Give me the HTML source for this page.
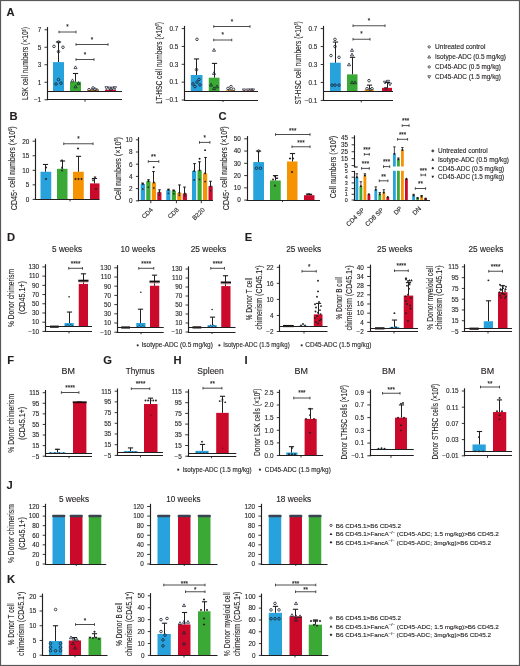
<!DOCTYPE html>
<html><head><meta charset="utf-8"><style>
html,body{margin:0;padding:0;background:#fff;}
body{width:520px;height:666px;overflow:hidden;}
svg{display:block;will-change:transform;}
text{font-family:"Liberation Sans", sans-serif;stroke:#231f20;stroke-width:0.12px;}
</style></head><body>
<svg width="520" height="666" viewBox="0 0 520 666">
<rect x="0" y="0" width="520" height="666" fill="#fff"/>
<text x="6.6" y="15.9" font-size="11.2" text-anchor="start" fill="#231f20" font-weight="bold">A</text>
<text x="9.5" y="120" font-size="11.2" text-anchor="start" fill="#231f20" font-weight="bold">B</text>
<text x="218.4" y="119.8" font-size="11.2" text-anchor="start" fill="#231f20" font-weight="bold">C</text>
<text x="6.9" y="240.6" font-size="11.2" text-anchor="start" fill="#231f20" font-weight="bold">D</text>
<text x="244.8" y="240.9" font-size="11.2" text-anchor="start" fill="#231f20" font-weight="bold">E</text>
<text x="7.2" y="364" font-size="11.2" text-anchor="start" fill="#231f20" font-weight="bold">F</text>
<text x="103.2" y="363.9" font-size="11.2" text-anchor="start" fill="#231f20" font-weight="bold">G</text>
<text x="173.6" y="363.9" font-size="11.2" text-anchor="start" fill="#231f20" font-weight="bold">H</text>
<text x="244.6" y="363.9" font-size="11.2" text-anchor="start" fill="#231f20" font-weight="bold">I</text>
<text x="6.6" y="488.6" font-size="11.2" text-anchor="start" fill="#231f20" font-weight="bold">J</text>
<text x="6.9" y="583.3" font-size="11.2" text-anchor="start" fill="#231f20" font-weight="bold">K</text>
<text x="41.2" y="32.05" font-size="6.4" text-anchor="end" fill="#231f20">7</text>
<text x="41.2" y="49.55" font-size="6.4" text-anchor="end" fill="#231f20">5</text>
<text x="41.2" y="67.05" font-size="6.4" text-anchor="end" fill="#231f20">3</text>
<text x="41.2" y="84.55" font-size="6.4" text-anchor="end" fill="#231f20">1</text>
<text x="41.2" y="102.05" font-size="6.4" text-anchor="end" fill="#231f20">&#8722;1</text>
<rect x="53" y="62.12" width="11" height="28.88" fill="#27a2dc"/>
<line x1="58.5" y1="62.12" x2="58.5" y2="42" stroke="#231f20" stroke-width="1.0"/>
<line x1="55.9" y1="42" x2="61.1" y2="42" stroke="#231f20" stroke-width="1.1"/>
<rect x="70" y="81.81" width="11" height="9.19" fill="#3aa935"/>
<line x1="75.5" y1="81.81" x2="75.5" y2="73.5" stroke="#231f20" stroke-width="1.0"/>
<line x1="72.9" y1="73.5" x2="78.1" y2="73.5" stroke="#231f20" stroke-width="1.1"/>
<rect x="87.5" y="89.95" width="11" height="1.05" fill="#f59300"/>
<rect x="105" y="89.69" width="11" height="1.31" fill="#cb0a2b"/>
<circle cx="54" cy="46.38" r="1.3" fill="none" stroke="#1a2230" stroke-width="0.8"/>
<circle cx="58.5" cy="42" r="1.3" fill="none" stroke="#1a2230" stroke-width="0.8"/>
<circle cx="63" cy="47.25" r="1.3" fill="none" stroke="#1a2230" stroke-width="0.8"/>
<circle cx="58.5" cy="51.62" r="1.3" fill="none" stroke="#1a2230" stroke-width="0.8"/>
<circle cx="56" cy="84" r="1.3" fill="none" stroke="#1a2230" stroke-width="0.8"/>
<circle cx="58.5" cy="79.62" r="1.3" fill="none" stroke="#1a2230" stroke-width="0.8"/>
<circle cx="61" cy="83.12" r="1.3" fill="none" stroke="#1a2230" stroke-width="0.8"/>
<polygon points="73.95,68.61 77.05,68.61 75.5,65.83" fill="none" stroke="#1a2230" stroke-width="0.75"/>
<polygon points="70.95,81.74 74.05,81.74 72.5,78.95" fill="none" stroke="#1a2230" stroke-width="0.75"/>
<polygon points="73.95,87.86 77.05,87.86 75.5,85.08" fill="none" stroke="#1a2230" stroke-width="0.75"/>
<polygon points="76.95,84.36 80.05,84.36 78.5,81.58" fill="none" stroke="#1a2230" stroke-width="0.75"/>
<circle cx="89" cy="89.69" r="1.3" fill="none" stroke="#1a2230" stroke-width="0.8"/>
<circle cx="92" cy="90.12" r="1.3" fill="none" stroke="#1a2230" stroke-width="0.8"/>
<circle cx="95" cy="89.25" r="1.3" fill="none" stroke="#1a2230" stroke-width="0.8"/>
<circle cx="97" cy="90.12" r="1.3" fill="none" stroke="#1a2230" stroke-width="0.8"/>
<circle cx="93" cy="87.94" r="1.3" fill="none" stroke="#1a2230" stroke-width="0.8"/>
<polygon points="104.95,86.7 108.05,86.7 106.5,89.49" fill="none" stroke="#1a2230" stroke-width="0.75"/>
<polygon points="107.95,87.14 111.05,87.14 109.5,89.92" fill="none" stroke="#1a2230" stroke-width="0.75"/>
<polygon points="110.95,87.14 114.05,87.14 112.5,89.92" fill="none" stroke="#1a2230" stroke-width="0.75"/>
<polygon points="113.45,86.7 116.55,86.7 115,89.49" fill="none" stroke="#1a2230" stroke-width="0.75"/>
<polygon points="109.45,88.89 112.55,88.89 111,91.67" fill="none" stroke="#1a2230" stroke-width="0.75"/>
<line x1="59" y1="32" x2="76" y2="32" stroke="#3a3a3a" stroke-width="0.9"/>
<line x1="59" y1="30.7" x2="59" y2="33.3" stroke="#3a3a3a" stroke-width="0.9"/>
<line x1="76" y1="30.7" x2="76" y2="33.3" stroke="#3a3a3a" stroke-width="0.9"/>
<text x="67.5" y="29.09" font-size="7" text-anchor="middle" fill="#222" textLength="2.45" lengthAdjust="spacingAndGlyphs">*</text>
<line x1="76" y1="44.5" x2="108" y2="44.5" stroke="#3a3a3a" stroke-width="0.9"/>
<line x1="76" y1="43.2" x2="76" y2="45.8" stroke="#3a3a3a" stroke-width="0.9"/>
<line x1="108" y1="43.2" x2="108" y2="45.8" stroke="#3a3a3a" stroke-width="0.9"/>
<text x="92" y="41.59" font-size="7" text-anchor="middle" fill="#222" textLength="2.45" lengthAdjust="spacingAndGlyphs">*</text>
<line x1="76" y1="59.5" x2="94" y2="59.5" stroke="#3a3a3a" stroke-width="0.9"/>
<line x1="76" y1="58.2" x2="76" y2="60.8" stroke="#3a3a3a" stroke-width="0.9"/>
<line x1="94" y1="58.2" x2="94" y2="60.8" stroke="#3a3a3a" stroke-width="0.9"/>
<text x="85" y="56.59" font-size="7" text-anchor="middle" fill="#222" textLength="2.45" lengthAdjust="spacingAndGlyphs">*</text>
<text x="28.48" y="63.5" font-size="9" text-anchor="middle" fill="#231f20" textLength="73" lengthAdjust="spacingAndGlyphs" transform="rotate(-90 28.48 63.5)">LSK cell numbers (×10<tspan font-size="4.6" dy="-2.6">6</tspan><tspan dy="2.6">)</tspan></text>
<text x="178.4" y="30.9" font-size="6.4" text-anchor="end" fill="#231f20">0.7</text>
<text x="178.4" y="48.75" font-size="6.4" text-anchor="end" fill="#231f20">0.5</text>
<text x="178.4" y="66.6" font-size="6.4" text-anchor="end" fill="#231f20">0.3</text>
<text x="178.4" y="84.45" font-size="6.4" text-anchor="end" fill="#231f20">0.1</text>
<text x="178.4" y="102.3" font-size="6.4" text-anchor="end" fill="#231f20">&#8722;0.1</text>
<rect x="190.75" y="75.01" width="11.75" height="16.06" fill="#27a2dc"/>
<line x1="196.5" y1="75.01" x2="196.5" y2="58.95" stroke="#231f20" stroke-width="1.0"/>
<line x1="193.9" y1="58.95" x2="199.1" y2="58.95" stroke="#231f20" stroke-width="1.1"/>
<rect x="208.75" y="77.69" width="10.75" height="13.39" fill="#3aa935"/>
<line x1="214.5" y1="77.69" x2="214.5" y2="63.41" stroke="#231f20" stroke-width="1.0"/>
<line x1="211.9" y1="63.41" x2="217.1" y2="63.41" stroke="#231f20" stroke-width="1.1"/>
<rect x="226" y="90.18" width="9" height="0.89" fill="#f59300"/>
<rect x="242.5" y="90.63" width="11.5" height="0.45" fill="#cb0a2b"/>
<circle cx="197" cy="39.31" r="1.3" fill="none" stroke="#1a2230" stroke-width="0.8"/>
<circle cx="196.5" cy="69.66" r="1.3" fill="none" stroke="#1a2230" stroke-width="0.8"/>
<circle cx="193" cy="83.94" r="1.3" fill="none" stroke="#1a2230" stroke-width="0.8"/>
<circle cx="197" cy="82.15" r="1.3" fill="none" stroke="#1a2230" stroke-width="0.8"/>
<circle cx="200" cy="84.83" r="1.3" fill="none" stroke="#1a2230" stroke-width="0.8"/>
<circle cx="195" cy="86.61" r="1.3" fill="none" stroke="#1a2230" stroke-width="0.8"/>
<circle cx="199" cy="79.47" r="1.3" fill="none" stroke="#1a2230" stroke-width="0.8"/>
<polygon points="212.45,51.26 215.55,51.26 214,48.47" fill="none" stroke="#1a2230" stroke-width="0.75"/>
<polygon points="212.45,74.46 215.55,74.46 214,71.67" fill="none" stroke="#1a2230" stroke-width="0.75"/>
<polygon points="209.45,86.07 212.55,86.07 211,83.28" fill="none" stroke="#1a2230" stroke-width="0.75"/>
<polygon points="215.45,87.85 218.55,87.85 217,85.06" fill="none" stroke="#1a2230" stroke-width="0.75"/>
<polygon points="212.45,89.64 215.55,89.64 214,86.85" fill="none" stroke="#1a2230" stroke-width="0.75"/>
<circle cx="228" cy="88.4" r="1.3" fill="none" stroke="#1a2230" stroke-width="0.8"/>
<circle cx="231" cy="86.61" r="1.3" fill="none" stroke="#1a2230" stroke-width="0.8"/>
<circle cx="233.5" cy="89.29" r="1.3" fill="none" stroke="#1a2230" stroke-width="0.8"/>
<circle cx="230" cy="90.18" r="1.3" fill="none" stroke="#1a2230" stroke-width="0.8"/>
<polygon points="242.45,88.94 245.55,88.94 244,91.73" fill="none" stroke="#1a2230" stroke-width="0.75"/>
<polygon points="246.45,88.94 249.55,88.94 248,91.73" fill="none" stroke="#1a2230" stroke-width="0.75"/>
<polygon points="249.45,88.94 252.55,88.94 251,91.73" fill="none" stroke="#1a2230" stroke-width="0.75"/>
<polygon points="251.45,88.94 254.55,88.94 253,91.73" fill="none" stroke="#1a2230" stroke-width="0.75"/>
<line x1="213.75" y1="26.5" x2="250" y2="26.5" stroke="#3a3a3a" stroke-width="0.9"/>
<line x1="213.75" y1="25.2" x2="213.75" y2="27.8" stroke="#3a3a3a" stroke-width="0.9"/>
<line x1="250" y1="25.2" x2="250" y2="27.8" stroke="#3a3a3a" stroke-width="0.9"/>
<text x="231.88" y="23.99" font-size="7" text-anchor="middle" fill="#222" textLength="2.45" lengthAdjust="spacingAndGlyphs">*</text>
<line x1="213.75" y1="40" x2="231.75" y2="40" stroke="#3a3a3a" stroke-width="0.9"/>
<line x1="213.75" y1="38.7" x2="213.75" y2="41.3" stroke="#3a3a3a" stroke-width="0.9"/>
<line x1="231.75" y1="38.7" x2="231.75" y2="41.3" stroke="#3a3a3a" stroke-width="0.9"/>
<text x="222.75" y="37.09" font-size="7" text-anchor="middle" fill="#222" textLength="2.45" lengthAdjust="spacingAndGlyphs">*</text>
<text x="161.78" y="62.88" font-size="9" text-anchor="middle" fill="#231f20" textLength="81.75" lengthAdjust="spacingAndGlyphs" transform="rotate(-90 161.78 62.88)">LT-HSC cell numbers (×10<tspan font-size="4.6" dy="-2.6">6</tspan><tspan dy="2.6">)</tspan></text>
<text x="317.4" y="30.9" font-size="6.4" text-anchor="end" fill="#231f20">0.7</text>
<text x="317.4" y="48.85" font-size="6.4" text-anchor="end" fill="#231f20">0.5</text>
<text x="317.4" y="66.8" font-size="6.4" text-anchor="end" fill="#231f20">0.3</text>
<text x="317.4" y="84.75" font-size="6.4" text-anchor="end" fill="#231f20">0.1</text>
<text x="317.4" y="102.7" font-size="6.4" text-anchor="end" fill="#231f20">&#8722;0.1</text>
<rect x="330" y="62.71" width="10.8" height="28.72" fill="#27a2dc"/>
<line x1="335.5" y1="62.71" x2="335.5" y2="42.06" stroke="#231f20" stroke-width="1.0"/>
<line x1="332.9" y1="42.06" x2="338.1" y2="42.06" stroke="#231f20" stroke-width="1.1"/>
<rect x="347" y="74.37" width="10.5" height="17.05" fill="#3aa935"/>
<line x1="352.5" y1="74.37" x2="352.5" y2="57.32" stroke="#231f20" stroke-width="1.0"/>
<line x1="349.9" y1="57.32" x2="355.1" y2="57.32" stroke="#231f20" stroke-width="1.1"/>
<rect x="364.5" y="89.63" width="9.25" height="1.8" fill="#f59300"/>
<line x1="369.5" y1="89.63" x2="369.5" y2="85.14" stroke="#231f20" stroke-width="1.0"/>
<line x1="366.9" y1="85.14" x2="372.1" y2="85.14" stroke="#231f20" stroke-width="1.1"/>
<rect x="382" y="87.84" width="10" height="3.59" fill="#cb0a2b"/>
<line x1="387.5" y1="87.84" x2="387.5" y2="82.45" stroke="#231f20" stroke-width="1.0"/>
<line x1="384.9" y1="82.45" x2="390.1" y2="82.45" stroke="#231f20" stroke-width="1.1"/>
<circle cx="335" cy="39.37" r="1.3" fill="none" stroke="#1a2230" stroke-width="0.8"/>
<circle cx="335" cy="46.55" r="1.3" fill="none" stroke="#1a2230" stroke-width="0.8"/>
<circle cx="331" cy="55.53" r="1.3" fill="none" stroke="#1a2230" stroke-width="0.8"/>
<circle cx="339" cy="57.32" r="1.3" fill="none" stroke="#1a2230" stroke-width="0.8"/>
<circle cx="332" cy="85.14" r="1.3" fill="none" stroke="#1a2230" stroke-width="0.8"/>
<circle cx="335" cy="85.14" r="1.3" fill="none" stroke="#1a2230" stroke-width="0.8"/>
<circle cx="339" cy="85.14" r="1.3" fill="none" stroke="#1a2230" stroke-width="0.8"/>
<polygon points="350.45,51.38 353.55,51.38 352,48.59" fill="none" stroke="#1a2230" stroke-width="0.75"/>
<polygon points="350.45,55.87 353.55,55.87 352,53.08" fill="none" stroke="#1a2230" stroke-width="0.75"/>
<polygon points="347.45,65.74 350.55,65.74 349,62.95" fill="none" stroke="#1a2230" stroke-width="0.75"/>
<polygon points="350.45,83.69 353.55,83.69 352,80.9" fill="none" stroke="#1a2230" stroke-width="0.75"/>
<polygon points="353.45,83.69 356.55,83.69 355,80.9" fill="none" stroke="#1a2230" stroke-width="0.75"/>
<circle cx="369" cy="80.66" r="1.3" fill="none" stroke="#1a2230" stroke-width="0.8"/>
<circle cx="367" cy="88.73" r="1.3" fill="none" stroke="#1a2230" stroke-width="0.8"/>
<circle cx="370" cy="89.63" r="1.3" fill="none" stroke="#1a2230" stroke-width="0.8"/>
<circle cx="372" cy="88.73" r="1.3" fill="none" stroke="#1a2230" stroke-width="0.8"/>
<polygon points="383.45,81.21 386.55,81.21 385,84" fill="none" stroke="#1a2230" stroke-width="0.75"/>
<polygon points="386.45,80.31 389.55,80.31 388,83.1" fill="none" stroke="#1a2230" stroke-width="0.75"/>
<polygon points="388.45,83.01 391.55,83.01 390,85.8" fill="none" stroke="#1a2230" stroke-width="0.75"/>
<polygon points="384.45,87.49 387.55,87.49 386,90.28" fill="none" stroke="#1a2230" stroke-width="0.75"/>
<line x1="353" y1="25.75" x2="385" y2="25.75" stroke="#3a3a3a" stroke-width="0.9"/>
<line x1="353" y1="24.45" x2="353" y2="27.05" stroke="#3a3a3a" stroke-width="0.9"/>
<line x1="385" y1="24.45" x2="385" y2="27.05" stroke="#3a3a3a" stroke-width="0.9"/>
<text x="369" y="23.04" font-size="7" text-anchor="middle" fill="#222" textLength="2.45" lengthAdjust="spacingAndGlyphs">*</text>
<line x1="353" y1="39.25" x2="370" y2="39.25" stroke="#3a3a3a" stroke-width="0.9"/>
<line x1="353" y1="37.95" x2="353" y2="40.55" stroke="#3a3a3a" stroke-width="0.9"/>
<line x1="370" y1="37.95" x2="370" y2="40.55" stroke="#3a3a3a" stroke-width="0.9"/>
<text x="361.5" y="36.14" font-size="7" text-anchor="middle" fill="#222" textLength="2.45" lengthAdjust="spacingAndGlyphs">*</text>
<text x="300.63" y="62.88" font-size="9" text-anchor="middle" fill="#231f20" textLength="83.25" lengthAdjust="spacingAndGlyphs" transform="rotate(-90 300.63 62.88)">ST-HSC cell numbers (×10<tspan font-size="4.6" dy="-2.6">6</tspan><tspan dy="2.6">)</tspan></text>
<circle cx="429.2" cy="46.9" r="1.15" fill="none" stroke="#231f20" stroke-width="0.75"/>
<text x="435" y="49.28" font-size="6.6" text-anchor="start" fill="#231f20" textLength="50.4" lengthAdjust="spacingAndGlyphs">Untreated control</text>
<polygon points="427.75,58.06 430.65,58.06 429.2,55.45" fill="none" stroke="#231f20" stroke-width="0.7"/>
<text x="435" y="59.28" font-size="6.6" text-anchor="start" fill="#231f20" textLength="71" lengthAdjust="spacingAndGlyphs">Isotype-ADC (0.5 mg/kg)</text>
<circle cx="429.2" cy="66.9" r="1.15" fill="none" stroke="#231f20" stroke-width="0.75"/>
<text x="435" y="69.28" font-size="6.6" text-anchor="start" fill="#231f20" textLength="66" lengthAdjust="spacingAndGlyphs">CD45-ADC (0.5 mg/kg)</text>
<polygon points="427.75,75.74 430.65,75.74 429.2,78.35" fill="none" stroke="#231f20" stroke-width="0.7"/>
<text x="435" y="79.28" font-size="6.6" text-anchor="start" fill="#231f20" textLength="66" lengthAdjust="spacingAndGlyphs">CD45-ADC (1.5 mg/kg)</text>
<text x="29.3" y="143.5" font-size="6.4" text-anchor="end" fill="#231f20">20</text>
<text x="29.3" y="158.05" font-size="6.4" text-anchor="end" fill="#231f20">15</text>
<text x="29.3" y="172.6" font-size="6.4" text-anchor="end" fill="#231f20">10</text>
<text x="29.3" y="187.15" font-size="6.4" text-anchor="end" fill="#231f20">5</text>
<text x="29.3" y="201.7" font-size="6.4" text-anchor="end" fill="#231f20">0</text>
<rect x="40.5" y="171.75" width="10.75" height="27.65" fill="#27a2dc"/>
<line x1="45.5" y1="171.75" x2="45.5" y2="164.48" stroke="#231f20" stroke-width="1.0"/>
<line x1="42.9" y1="164.48" x2="48.1" y2="164.48" stroke="#231f20" stroke-width="1.1"/>
<rect x="57" y="168.84" width="10.5" height="30.56" fill="#3aa935"/>
<line x1="62.5" y1="168.84" x2="62.5" y2="160.99" stroke="#231f20" stroke-width="1.0"/>
<line x1="59.9" y1="160.99" x2="65.1" y2="160.99" stroke="#231f20" stroke-width="1.1"/>
<rect x="73" y="171.75" width="10.75" height="27.65" fill="#f59300"/>
<line x1="78.5" y1="171.75" x2="78.5" y2="156.33" stroke="#231f20" stroke-width="1.0"/>
<line x1="75.9" y1="156.33" x2="81.1" y2="156.33" stroke="#231f20" stroke-width="1.1"/>
<rect x="90" y="183.39" width="9.5" height="16.01" fill="#cb0a2b"/>
<line x1="94.5" y1="183.39" x2="94.5" y2="178.45" stroke="#231f20" stroke-width="1.0"/>
<line x1="91.9" y1="178.45" x2="97.1" y2="178.45" stroke="#231f20" stroke-width="1.1"/>
<polygon points="46,166.14 47.25,167.39 46,168.64 44.75,167.39" fill="#231f20"/>
<polygon points="46,177.78 47.25,179.03 46,180.28 44.75,179.03" fill="#231f20"/>
<polygon points="60.7,161.16 63.3,161.16 62,158.81" fill="#231f20" stroke="#231f20" stroke-width="0"/>
<polygon points="60.7,168.43 63.3,168.43 62,166.09" fill="#231f20" stroke="#231f20" stroke-width="0"/>
<polygon points="60.7,171.34 63.3,171.34 62,169" fill="#231f20" stroke="#231f20" stroke-width="0"/>
<polygon points="78,147.22 79.25,148.47 78,149.72 76.75,148.47" fill="#231f20"/>
<polygon points="75.5,177.78 76.75,179.03 75.5,180.28 74.25,179.03" fill="#231f20"/>
<polygon points="78.5,177.78 79.75,179.03 78.5,180.28 77.25,179.03" fill="#231f20"/>
<polygon points="81.5,177.78 82.75,179.03 81.5,180.28 80.25,179.03" fill="#231f20"/>
<polygon points="93.7,176.53 96.3,176.53 95,178.88" fill="#231f20" stroke="#231f20" stroke-width="0"/>
<polygon points="91.7,179.45 94.3,179.45 93,181.79" fill="#231f20" stroke="#231f20" stroke-width="0"/>
<polygon points="94.7,188.18 97.3,188.18 96,190.52" fill="#231f20" stroke="#231f20" stroke-width="0"/>
<line x1="63.75" y1="143.75" x2="93" y2="143.75" stroke="#3a3a3a" stroke-width="0.9"/>
<line x1="63.75" y1="142.45" x2="63.75" y2="145.05" stroke="#3a3a3a" stroke-width="0.9"/>
<line x1="93" y1="142.45" x2="93" y2="145.05" stroke="#3a3a3a" stroke-width="0.9"/>
<text x="78.38" y="141.09" font-size="7" text-anchor="middle" fill="#222" textLength="2.45" lengthAdjust="spacingAndGlyphs">*</text>
<text x="17.38" y="168.25" font-size="9" text-anchor="middle" fill="#231f20" textLength="84" lengthAdjust="spacingAndGlyphs" transform="rotate(-90 17.38 168.25)">CD45<tspan font-size="4.6" dy="-2.6">+</tspan><tspan dy="2.6"></tspan> cell numbers (×10<tspan font-size="4.6" dy="-2.6">6</tspan><tspan dy="2.6">)</tspan></text>
<text x="132.6" y="142.1" font-size="6.4" text-anchor="end" fill="#231f20">10</text>
<text x="132.6" y="154.3" font-size="6.4" text-anchor="end" fill="#231f20">8</text>
<text x="132.6" y="166.5" font-size="6.4" text-anchor="end" fill="#231f20">6</text>
<text x="132.6" y="178.7" font-size="6.4" text-anchor="end" fill="#231f20">4</text>
<text x="132.6" y="190.9" font-size="6.4" text-anchor="end" fill="#231f20">2</text>
<text x="132.6" y="203.1" font-size="6.4" text-anchor="end" fill="#231f20">0</text>
<rect x="140.75" y="184.03" width="4.2" height="16.78" fill="#27a2dc"/>
<line x1="142.5" y1="184.03" x2="142.5" y2="183.11" stroke="#231f20" stroke-width="1.0"/>
<line x1="141.24" y1="183.11" x2="143.76" y2="183.11" stroke="#231f20" stroke-width="1.1"/>
<circle cx="142.85" cy="184.03" r="1" fill="#1a1a1a" stroke="#231f20" stroke-width="0"/>
<circle cx="142.85" cy="189.06" r="0.9" fill="#2a2a2a" stroke="#231f20" stroke-width="0"/>
<rect x="146.25" y="181.28" width="4.2" height="19.52" fill="#3aa935"/>
<line x1="148.5" y1="181.28" x2="148.5" y2="179.75" stroke="#231f20" stroke-width="1.0"/>
<line x1="147.24" y1="179.75" x2="149.76" y2="179.75" stroke="#231f20" stroke-width="1.1"/>
<circle cx="148.35" cy="181.28" r="1" fill="#1a1a1a" stroke="#231f20" stroke-width="0"/>
<circle cx="148.35" cy="187.14" r="0.9" fill="#2a2a2a" stroke="#231f20" stroke-width="0"/>
<rect x="151.75" y="182.5" width="4.2" height="18.3" fill="#f59300"/>
<line x1="153.5" y1="182.5" x2="153.5" y2="171.52" stroke="#231f20" stroke-width="1.0"/>
<line x1="152.24" y1="171.52" x2="154.76" y2="171.52" stroke="#231f20" stroke-width="1.1"/>
<circle cx="153.85" cy="182.5" r="1" fill="#1a1a1a" stroke="#231f20" stroke-width="0"/>
<circle cx="153.85" cy="187.99" r="0.9" fill="#2a2a2a" stroke="#231f20" stroke-width="0"/>
<rect x="157.25" y="192.26" width="4.2" height="8.54" fill="#cb0a2b"/>
<line x1="159.5" y1="192.26" x2="159.5" y2="189.82" stroke="#231f20" stroke-width="1.0"/>
<line x1="158.24" y1="189.82" x2="160.76" y2="189.82" stroke="#231f20" stroke-width="1.1"/>
<circle cx="159.35" cy="192.26" r="1" fill="#1a1a1a" stroke="#231f20" stroke-width="0"/>
<circle cx="159.35" cy="194.82" r="0.9" fill="#2a2a2a" stroke="#231f20" stroke-width="0"/>
<rect x="166.25" y="190.12" width="4.2" height="10.68" fill="#27a2dc"/>
<line x1="168.5" y1="190.12" x2="168.5" y2="189.21" stroke="#231f20" stroke-width="1.0"/>
<line x1="167.24" y1="189.21" x2="169.76" y2="189.21" stroke="#231f20" stroke-width="1.1"/>
<circle cx="168.35" cy="190.12" r="1" fill="#1a1a1a" stroke="#231f20" stroke-width="0"/>
<circle cx="168.35" cy="193.33" r="0.9" fill="#2a2a2a" stroke="#231f20" stroke-width="0"/>
<rect x="171.75" y="190.74" width="4.2" height="10.06" fill="#3aa935"/>
<line x1="173.5" y1="190.74" x2="173.5" y2="190.12" stroke="#231f20" stroke-width="1.0"/>
<line x1="172.24" y1="190.12" x2="174.76" y2="190.12" stroke="#231f20" stroke-width="1.1"/>
<circle cx="173.85" cy="190.74" r="1" fill="#1a1a1a" stroke="#231f20" stroke-width="0"/>
<circle cx="173.85" cy="193.75" r="0.9" fill="#2a2a2a" stroke="#231f20" stroke-width="0"/>
<rect x="177.25" y="192.87" width="4.2" height="7.93" fill="#f59300"/>
<line x1="179.5" y1="192.87" x2="179.5" y2="184.94" stroke="#231f20" stroke-width="1.0"/>
<line x1="178.24" y1="184.94" x2="180.76" y2="184.94" stroke="#231f20" stroke-width="1.1"/>
<circle cx="179.35" cy="192.87" r="1" fill="#1a1a1a" stroke="#231f20" stroke-width="0"/>
<circle cx="179.35" cy="195.25" r="0.9" fill="#2a2a2a" stroke="#231f20" stroke-width="0"/>
<rect x="182.75" y="193.48" width="4.2" height="7.32" fill="#cb0a2b"/>
<line x1="184.5" y1="193.48" x2="184.5" y2="187.08" stroke="#231f20" stroke-width="1.0"/>
<line x1="183.24" y1="187.08" x2="185.76" y2="187.08" stroke="#231f20" stroke-width="1.1"/>
<circle cx="184.85" cy="193.48" r="1" fill="#1a1a1a" stroke="#231f20" stroke-width="0"/>
<circle cx="184.85" cy="195.68" r="0.9" fill="#2a2a2a" stroke="#231f20" stroke-width="0"/>
<rect x="192" y="170.91" width="4.2" height="29.89" fill="#27a2dc"/>
<line x1="194.5" y1="170.91" x2="194.5" y2="163.59" stroke="#231f20" stroke-width="1.0"/>
<line x1="193.24" y1="163.59" x2="195.76" y2="163.59" stroke="#231f20" stroke-width="1.1"/>
<circle cx="194.1" cy="170.91" r="1" fill="#1a1a1a" stroke="#231f20" stroke-width="0"/>
<circle cx="194.1" cy="179.88" r="0.9" fill="#2a2a2a" stroke="#231f20" stroke-width="0"/>
<rect x="197.5" y="170.3" width="4.2" height="30.5" fill="#3aa935"/>
<line x1="199.5" y1="170.3" x2="199.5" y2="161.76" stroke="#231f20" stroke-width="1.0"/>
<line x1="198.24" y1="161.76" x2="200.76" y2="161.76" stroke="#231f20" stroke-width="1.1"/>
<circle cx="199.6" cy="170.3" r="1" fill="#1a1a1a" stroke="#231f20" stroke-width="0"/>
<circle cx="199.6" cy="179.45" r="0.9" fill="#2a2a2a" stroke="#231f20" stroke-width="0"/>
<rect x="203" y="173.35" width="4.2" height="27.45" fill="#f59300"/>
<line x1="205.5" y1="173.35" x2="205.5" y2="157.49" stroke="#231f20" stroke-width="1.0"/>
<line x1="204.24" y1="157.49" x2="206.76" y2="157.49" stroke="#231f20" stroke-width="1.1"/>
<circle cx="205.1" cy="173.35" r="1" fill="#1a1a1a" stroke="#231f20" stroke-width="0"/>
<circle cx="205.1" cy="181.59" r="0.9" fill="#2a2a2a" stroke="#231f20" stroke-width="0"/>
<rect x="208.5" y="186.16" width="4.2" height="14.64" fill="#cb0a2b"/>
<line x1="210.5" y1="186.16" x2="210.5" y2="181.28" stroke="#231f20" stroke-width="1.0"/>
<line x1="209.24" y1="181.28" x2="211.76" y2="181.28" stroke="#231f20" stroke-width="1.1"/>
<circle cx="210.6" cy="186.16" r="1" fill="#1a1a1a" stroke="#231f20" stroke-width="0"/>
<circle cx="210.6" cy="190.55" r="0.9" fill="#2a2a2a" stroke="#231f20" stroke-width="0"/>
<circle cx="153.7" cy="167.25" r="0.95" fill="#1a1a1a" stroke="#231f20" stroke-width="0"/>
<circle cx="205.1" cy="150.17" r="0.95" fill="#1a1a1a" stroke="#231f20" stroke-width="0"/>
<circle cx="199.6" cy="158.71" r="0.95" fill="#1a1a1a" stroke="#231f20" stroke-width="0"/>
<line x1="148.3" y1="161.5" x2="158.8" y2="161.5" stroke="#3a3a3a" stroke-width="0.9"/>
<line x1="148.3" y1="160.2" x2="148.3" y2="162.8" stroke="#3a3a3a" stroke-width="0.9"/>
<line x1="158.8" y1="160.2" x2="158.8" y2="162.8" stroke="#3a3a3a" stroke-width="0.9"/>
<text x="153.55" y="159.29" font-size="7" text-anchor="middle" fill="#222" textLength="4.9" lengthAdjust="spacingAndGlyphs">**</text>
<line x1="199.5" y1="142.4" x2="209.9" y2="142.4" stroke="#3a3a3a" stroke-width="0.9"/>
<line x1="199.5" y1="141.1" x2="199.5" y2="143.7" stroke="#3a3a3a" stroke-width="0.9"/>
<line x1="209.9" y1="141.1" x2="209.9" y2="143.7" stroke="#3a3a3a" stroke-width="0.9"/>
<text x="204.7" y="140.09" font-size="7" text-anchor="middle" fill="#222" textLength="2.45" lengthAdjust="spacingAndGlyphs">*</text>
<text x="120.58" y="168.7" font-size="9" text-anchor="middle" fill="#231f20" textLength="63" lengthAdjust="spacingAndGlyphs" transform="rotate(-90 120.58 168.7)">Cell numbers (×10<tspan font-size="4.6" dy="-2.6">6</tspan><tspan dy="2.6">)</tspan></text>
<text x="153.3" y="210.2" font-size="6.3" text-anchor="end" fill="#231f20" transform="rotate(-45 153.3 210.2)">CD4</text>
<text x="179.2" y="210.2" font-size="6.3" text-anchor="end" fill="#231f20" transform="rotate(-45 179.2 210.2)">CD8</text>
<text x="205.2" y="210.2" font-size="6.3" text-anchor="end" fill="#231f20" transform="rotate(-45 205.2 210.2)">B220</text>
<text x="240.9" y="141.1" font-size="6.4" text-anchor="end" fill="#231f20">50</text>
<text x="240.9" y="153.36" font-size="6.4" text-anchor="end" fill="#231f20">40</text>
<text x="240.9" y="165.62" font-size="6.4" text-anchor="end" fill="#231f20">30</text>
<text x="240.9" y="177.88" font-size="6.4" text-anchor="end" fill="#231f20">20</text>
<text x="240.9" y="190.14" font-size="6.4" text-anchor="end" fill="#231f20">10</text>
<text x="240.9" y="202.4" font-size="6.4" text-anchor="end" fill="#231f20">0</text>
<rect x="253.25" y="162.09" width="10.75" height="38.01" fill="#27a2dc"/>
<line x1="258.5" y1="162.09" x2="258.5" y2="151.06" stroke="#231f20" stroke-width="1.0"/>
<line x1="255.9" y1="151.06" x2="261.1" y2="151.06" stroke="#231f20" stroke-width="1.1"/>
<rect x="270" y="180.48" width="10.75" height="19.62" fill="#3aa935"/>
<line x1="275.5" y1="180.48" x2="275.5" y2="175.58" stroke="#231f20" stroke-width="1.0"/>
<line x1="272.9" y1="175.58" x2="278.1" y2="175.58" stroke="#231f20" stroke-width="1.1"/>
<rect x="287" y="161.48" width="10.5" height="38.62" fill="#f59300"/>
<line x1="292.5" y1="161.48" x2="292.5" y2="153.51" stroke="#231f20" stroke-width="1.0"/>
<line x1="289.9" y1="153.51" x2="295.1" y2="153.51" stroke="#231f20" stroke-width="1.1"/>
<rect x="304" y="195.2" width="10.5" height="4.9" fill="#cb0a2b"/>
<line x1="309.5" y1="195.2" x2="309.5" y2="194.46" stroke="#231f20" stroke-width="1.0"/>
<line x1="306.9" y1="194.46" x2="312.1" y2="194.46" stroke="#231f20" stroke-width="1.1"/>
<circle cx="258.6" cy="151.06" r="1.3" fill="none" stroke="#1a2230" stroke-width="0.8"/>
<circle cx="256.5" cy="168.22" r="1.3" fill="none" stroke="#1a2230" stroke-width="0.8"/>
<circle cx="260.5" cy="168.22" r="1.3" fill="none" stroke="#1a2230" stroke-width="0.8"/>
<polygon points="273.7,177.23 276.3,177.23 275,174.89" fill="#231f20" stroke="#231f20" stroke-width="0"/>
<polygon points="271.7,180.3 274.3,180.3 273,177.96" fill="#231f20" stroke="#231f20" stroke-width="0"/>
<polygon points="275.7,179.07 278.3,179.07 277,176.73" fill="#231f20" stroke="#231f20" stroke-width="0"/>
<polygon points="273.7,186.43 276.3,186.43 275,184.09" fill="#231f20" stroke="#231f20" stroke-width="0"/>
<polygon points="290,157.17 291.25,158.42 290,159.67 288.75,158.42" fill="#231f20"/>
<polygon points="293,157.17 294.25,158.42 293,159.67 291.75,158.42" fill="#231f20"/>
<polygon points="292,170.65 293.25,171.9 292,173.15 290.75,171.9" fill="#231f20"/>
<polygon points="305.7,193.54 308.3,193.54 307,195.88" fill="#231f20" stroke="#231f20" stroke-width="0"/>
<polygon points="307.7,193.18 310.3,193.18 309,195.52" fill="#231f20" stroke="#231f20" stroke-width="0"/>
<polygon points="309.7,193.67 312.3,193.67 311,196.01" fill="#231f20" stroke="#231f20" stroke-width="0"/>
<line x1="275.5" y1="134.5" x2="310" y2="134.5" stroke="#3a3a3a" stroke-width="0.9"/>
<line x1="275.5" y1="133.2" x2="275.5" y2="135.8" stroke="#3a3a3a" stroke-width="0.9"/>
<line x1="310" y1="133.2" x2="310" y2="135.8" stroke="#3a3a3a" stroke-width="0.9"/>
<text x="292.75" y="133.09" font-size="7" text-anchor="middle" fill="#222" textLength="7.35" lengthAdjust="spacingAndGlyphs">***</text>
<line x1="292" y1="146.75" x2="310" y2="146.75" stroke="#3a3a3a" stroke-width="0.9"/>
<line x1="292" y1="145.45" x2="292" y2="148.05" stroke="#3a3a3a" stroke-width="0.9"/>
<line x1="310" y1="145.45" x2="310" y2="148.05" stroke="#3a3a3a" stroke-width="0.9"/>
<text x="301" y="145.34" font-size="7" text-anchor="middle" fill="#222" textLength="7.35" lengthAdjust="spacingAndGlyphs">***</text>
<text x="229.18" y="168.25" font-size="9" text-anchor="middle" fill="#231f20" textLength="84" lengthAdjust="spacingAndGlyphs" transform="rotate(-90 229.18 168.25)">CD45<tspan font-size="4.6" dy="-2.6">+</tspan><tspan dy="2.6"></tspan> cell numbers (×10<tspan font-size="4.6" dy="-2.6">6</tspan><tspan dy="2.6">)</tspan></text>
<text x="348" y="140.08" font-size="6.3" text-anchor="end" fill="#231f20">45</text>
<text x="348" y="147.01" font-size="6.3" text-anchor="end" fill="#231f20">35</text>
<text x="348" y="153.94" font-size="6.3" text-anchor="end" fill="#231f20">25</text>
<text x="348" y="160.87" font-size="6.3" text-anchor="end" fill="#231f20">15</text>
<text x="348" y="167.8" font-size="6.3" text-anchor="end" fill="#231f20">5</text>
<text x="347.8" y="179.1" font-size="5.4" text-anchor="end" fill="#231f20">4</text>
<text x="347.8" y="184.8" font-size="5.4" text-anchor="end" fill="#231f20">3</text>
<text x="347.8" y="190.5" font-size="5.4" text-anchor="end" fill="#231f20">2</text>
<text x="347.8" y="196.2" font-size="5.4" text-anchor="end" fill="#231f20">1</text>
<text x="347.8" y="201.9" font-size="5.4" text-anchor="end" fill="#231f20">0</text>
<text x="347.8" y="173.4" font-size="5.4" text-anchor="end" fill="#231f20">5</text>
<rect x="355.5" y="177.2" width="2.8" height="22.8" fill="#27a2dc"/>
<line x1="356.9" y1="177.2" x2="356.9" y2="173.78" stroke="#231f20" stroke-width="0.8"/>
<line x1="355.7" y1="173.78" x2="358.1" y2="173.78" stroke="#231f20" stroke-width="0.9"/>
<circle cx="356.9" cy="177.2" r="1.05" fill="#1a1a1a" stroke="#231f20" stroke-width="0"/>
<rect x="359.5" y="186.32" width="2.8" height="13.68" fill="#3aa935"/>
<line x1="360.9" y1="186.32" x2="360.9" y2="181.76" stroke="#231f20" stroke-width="0.8"/>
<line x1="359.7" y1="181.76" x2="362.1" y2="181.76" stroke="#231f20" stroke-width="0.9"/>
<circle cx="360.9" cy="186.32" r="1.05" fill="#1a1a1a" stroke="#231f20" stroke-width="0"/>
<rect x="363.5" y="175.49" width="2.8" height="24.51" fill="#f59300"/>
<line x1="364.9" y1="175.49" x2="364.9" y2="173.78" stroke="#231f20" stroke-width="0.8"/>
<line x1="363.7" y1="173.78" x2="366.1" y2="173.78" stroke="#231f20" stroke-width="0.9"/>
<circle cx="364.9" cy="175.49" r="1.05" fill="#1a1a1a" stroke="#231f20" stroke-width="0"/>
<rect x="367.5" y="194.3" width="2.8" height="5.7" fill="#cb0a2b"/>
<circle cx="368.9" cy="194.3" r="1.05" fill="#1a1a1a" stroke="#231f20" stroke-width="0"/>
<rect x="374.4" y="189.74" width="2.8" height="10.26" fill="#27a2dc"/>
<line x1="375.8" y1="189.74" x2="375.8" y2="186.89" stroke="#231f20" stroke-width="0.8"/>
<line x1="374.6" y1="186.89" x2="377" y2="186.89" stroke="#231f20" stroke-width="0.9"/>
<circle cx="375.8" cy="189.74" r="1.05" fill="#1a1a1a" stroke="#231f20" stroke-width="0"/>
<rect x="378.4" y="194.3" width="2.8" height="5.7" fill="#3aa935"/>
<line x1="379.8" y1="194.3" x2="379.8" y2="192.59" stroke="#231f20" stroke-width="0.8"/>
<line x1="378.6" y1="192.59" x2="381" y2="192.59" stroke="#231f20" stroke-width="0.9"/>
<circle cx="379.8" cy="194.3" r="1.05" fill="#1a1a1a" stroke="#231f20" stroke-width="0"/>
<rect x="382.4" y="192.59" width="2.8" height="7.41" fill="#f59300"/>
<line x1="383.8" y1="192.59" x2="383.8" y2="189.74" stroke="#231f20" stroke-width="0.8"/>
<line x1="382.6" y1="189.74" x2="385" y2="189.74" stroke="#231f20" stroke-width="0.9"/>
<circle cx="383.8" cy="192.59" r="1.05" fill="#1a1a1a" stroke="#231f20" stroke-width="0"/>
<rect x="386.4" y="197.15" width="2.8" height="2.85" fill="#cb0a2b"/>
<circle cx="387.8" cy="197.15" r="1.05" fill="#1a1a1a" stroke="#231f20" stroke-width="0"/>
<rect x="393" y="170.8" width="2.8" height="29.2" fill="#27a2dc"/>
<rect x="393" y="153.82" width="2.8" height="12.68" fill="#27a2dc"/>
<line x1="394.4" y1="153.82" x2="394.4" y2="146.89" stroke="#231f20" stroke-width="0.8"/>
<line x1="393.2" y1="146.89" x2="395.6" y2="146.89" stroke="#231f20" stroke-width="0.9"/>
<circle cx="394.4" cy="153.82" r="1.05" fill="#1a1a1a" stroke="#231f20" stroke-width="0"/>
<rect x="397" y="170.8" width="2.8" height="29.2" fill="#3aa935"/>
<rect x="397" y="159.36" width="2.8" height="7.14" fill="#3aa935"/>
<line x1="398.4" y1="159.36" x2="398.4" y2="157.98" stroke="#231f20" stroke-width="0.8"/>
<line x1="397.2" y1="157.98" x2="399.6" y2="157.98" stroke="#231f20" stroke-width="0.9"/>
<circle cx="398.4" cy="159.36" r="1.05" fill="#1a1a1a" stroke="#231f20" stroke-width="0"/>
<rect x="401" y="170.8" width="2.8" height="29.2" fill="#f59300"/>
<rect x="401" y="150.01" width="2.8" height="16.49" fill="#f59300"/>
<line x1="402.4" y1="150.01" x2="402.4" y2="147.58" stroke="#231f20" stroke-width="0.8"/>
<line x1="401.2" y1="147.58" x2="403.6" y2="147.58" stroke="#231f20" stroke-width="0.9"/>
<circle cx="402.4" cy="150.01" r="1.05" fill="#1a1a1a" stroke="#231f20" stroke-width="0"/>
<rect x="405" y="178.91" width="2.8" height="21.09" fill="#cb0a2b"/>
<circle cx="406.4" cy="178.91" r="1.05" fill="#1a1a1a" stroke="#231f20" stroke-width="0"/>
<rect x="412.2" y="195.44" width="2.8" height="4.56" fill="#27a2dc"/>
<line x1="413.6" y1="195.44" x2="413.6" y2="194.3" stroke="#231f20" stroke-width="0.8"/>
<line x1="412.4" y1="194.3" x2="414.8" y2="194.3" stroke="#231f20" stroke-width="0.9"/>
<circle cx="413.6" cy="195.44" r="1.05" fill="#1a1a1a" stroke="#231f20" stroke-width="0"/>
<rect x="416.2" y="198.29" width="2.8" height="1.71" fill="#3aa935"/>
<line x1="417.6" y1="198.29" x2="417.6" y2="197.72" stroke="#231f20" stroke-width="0.8"/>
<line x1="416.4" y1="197.72" x2="418.8" y2="197.72" stroke="#231f20" stroke-width="0.9"/>
<circle cx="417.6" cy="198.29" r="1.05" fill="#1a1a1a" stroke="#231f20" stroke-width="0"/>
<rect x="420.2" y="196.58" width="2.8" height="3.42" fill="#f59300"/>
<line x1="421.6" y1="196.58" x2="421.6" y2="195.44" stroke="#231f20" stroke-width="0.8"/>
<line x1="420.4" y1="195.44" x2="422.8" y2="195.44" stroke="#231f20" stroke-width="0.9"/>
<circle cx="421.6" cy="196.58" r="1.05" fill="#1a1a1a" stroke="#231f20" stroke-width="0"/>
<rect x="424.2" y="198.86" width="2.8" height="1.14" fill="#cb0a2b"/>
<line x1="425.6" y1="198.86" x2="425.6" y2="198.29" stroke="#231f20" stroke-width="0.8"/>
<line x1="424.4" y1="198.29" x2="426.8" y2="198.29" stroke="#231f20" stroke-width="0.9"/>
<circle cx="425.6" cy="198.86" r="1.05" fill="#1a1a1a" stroke="#231f20" stroke-width="0"/>
<line x1="364.3" y1="154.3" x2="369.3" y2="154.3" stroke="#3a3a3a" stroke-width="0.9"/>
<line x1="364.3" y1="153" x2="364.3" y2="155.6" stroke="#3a3a3a" stroke-width="0.9"/>
<line x1="369.3" y1="153" x2="369.3" y2="155.6" stroke="#3a3a3a" stroke-width="0.9"/>
<text x="366.8" y="152.14" font-size="6.4" text-anchor="middle" fill="#222" textLength="7.35" lengthAdjust="spacingAndGlyphs">***</text>
<line x1="361.6" y1="168.4" x2="369.3" y2="168.4" stroke="#3a3a3a" stroke-width="0.9"/>
<line x1="361.6" y1="167.1" x2="361.6" y2="169.7" stroke="#3a3a3a" stroke-width="0.9"/>
<line x1="369.3" y1="167.1" x2="369.3" y2="169.7" stroke="#3a3a3a" stroke-width="0.9"/>
<text x="365.45" y="166.24" font-size="6.4" text-anchor="middle" fill="#222" textLength="7.35" lengthAdjust="spacingAndGlyphs">***</text>
<line x1="383.5" y1="166.6" x2="389.7" y2="166.6" stroke="#3a3a3a" stroke-width="0.9"/>
<line x1="383.5" y1="165.3" x2="383.5" y2="167.9" stroke="#3a3a3a" stroke-width="0.9"/>
<line x1="389.7" y1="165.3" x2="389.7" y2="167.9" stroke="#3a3a3a" stroke-width="0.9"/>
<text x="386.6" y="164.44" font-size="6.4" text-anchor="middle" fill="#222" textLength="7.35" lengthAdjust="spacingAndGlyphs">***</text>
<line x1="379.3" y1="180.8" x2="387.9" y2="180.8" stroke="#3a3a3a" stroke-width="0.9"/>
<line x1="379.3" y1="179.5" x2="379.3" y2="182.1" stroke="#3a3a3a" stroke-width="0.9"/>
<line x1="387.9" y1="179.5" x2="387.9" y2="182.1" stroke="#3a3a3a" stroke-width="0.9"/>
<text x="383.6" y="178.64" font-size="6.4" text-anchor="middle" fill="#222" textLength="4.9" lengthAdjust="spacingAndGlyphs">**</text>
<line x1="402.2" y1="125.6" x2="409.1" y2="125.6" stroke="#3a3a3a" stroke-width="0.9"/>
<line x1="402.2" y1="124.3" x2="402.2" y2="126.9" stroke="#3a3a3a" stroke-width="0.9"/>
<line x1="409.1" y1="124.3" x2="409.1" y2="126.9" stroke="#3a3a3a" stroke-width="0.9"/>
<text x="405.65" y="123.44" font-size="6.4" text-anchor="middle" fill="#222" textLength="7.35" lengthAdjust="spacingAndGlyphs">***</text>
<line x1="397.6" y1="139.3" x2="407.6" y2="139.3" stroke="#3a3a3a" stroke-width="0.9"/>
<line x1="397.6" y1="138" x2="397.6" y2="140.6" stroke="#3a3a3a" stroke-width="0.9"/>
<line x1="407.6" y1="138" x2="407.6" y2="140.6" stroke="#3a3a3a" stroke-width="0.9"/>
<text x="402.6" y="137.14" font-size="6.4" text-anchor="middle" fill="#222" textLength="7.35" lengthAdjust="spacingAndGlyphs">***</text>
<line x1="421" y1="175" x2="425.6" y2="175" stroke="#3a3a3a" stroke-width="0.9"/>
<line x1="421" y1="173.7" x2="421" y2="176.3" stroke="#3a3a3a" stroke-width="0.9"/>
<line x1="425.6" y1="173.7" x2="425.6" y2="176.3" stroke="#3a3a3a" stroke-width="0.9"/>
<text x="423.3" y="172.84" font-size="6.4" text-anchor="middle" fill="#222" textLength="7.35" lengthAdjust="spacingAndGlyphs">***</text>
<line x1="415.3" y1="188.5" x2="425.6" y2="188.5" stroke="#3a3a3a" stroke-width="0.9"/>
<line x1="415.3" y1="187.2" x2="415.3" y2="189.8" stroke="#3a3a3a" stroke-width="0.9"/>
<line x1="425.6" y1="187.2" x2="425.6" y2="189.8" stroke="#3a3a3a" stroke-width="0.9"/>
<text x="420.45" y="186.34" font-size="6.4" text-anchor="middle" fill="#222" textLength="4.9" lengthAdjust="spacingAndGlyphs">**</text>
<text x="336.08" y="167.12" font-size="9" text-anchor="middle" fill="#231f20" textLength="62.25" lengthAdjust="spacingAndGlyphs" transform="rotate(-90 336.08 167.12)">Cell numbers (×10<tspan font-size="4.6" dy="-2.6">5</tspan><tspan dy="2.6">)</tspan></text>
<text x="365" y="210.5" font-size="6.4" text-anchor="end" fill="#231f20" transform="rotate(-45 365 210.5)">CD4 SP</text>
<text x="384" y="210.5" font-size="6.4" text-anchor="end" fill="#231f20" transform="rotate(-45 384 210.5)">CD8 SP</text>
<text x="402.5" y="209" font-size="6.4" text-anchor="end" fill="#231f20" transform="rotate(-45 402.5 209)">DP</text>
<text x="421.5" y="209" font-size="6.4" text-anchor="end" fill="#231f20" transform="rotate(-45 421.5 209)">DN</text>
<circle cx="432.8" cy="150.9" r="1.1" fill="#555" stroke="#231f20" stroke-width="0.5"/>
<text x="438" y="153.28" font-size="6.6" text-anchor="start" fill="#231f20" textLength="49.6" lengthAdjust="spacingAndGlyphs">Untreated control</text>
<polygon points="431.4,160.64 434.2,160.64 432.8,158.12" fill="#231f20" stroke="#231f20" stroke-width="0"/>
<text x="438" y="161.9" font-size="6.6" text-anchor="start" fill="#231f20" textLength="70.9" lengthAdjust="spacingAndGlyphs">Isotype-ADC (0.5 mg/kg)</text>
<polygon points="432.8,166.74 434.2,168.14 432.8,169.54 431.4,168.14" fill="#231f20"/>
<text x="438" y="170.52" font-size="6.6" text-anchor="start" fill="#231f20" textLength="66.2" lengthAdjust="spacingAndGlyphs">CD45-ADC (0.5 mg/kg)</text>
<polygon points="431.4,175.64 434.2,175.64 432.8,178.16" fill="#231f20" stroke="#231f20" stroke-width="0"/>
<text x="438" y="179.14" font-size="6.6" text-anchor="start" fill="#231f20" textLength="66.2" lengthAdjust="spacingAndGlyphs">CD45-ADC (1.5 mg/kg)</text>
<text x="39.1" y="269.2" font-size="6.4" text-anchor="end" fill="#231f20">130</text>
<text x="39.1" y="278.42" font-size="6.4" text-anchor="end" fill="#231f20">110</text>
<text x="39.1" y="287.63" font-size="6.4" text-anchor="end" fill="#231f20">90</text>
<text x="39.1" y="296.85" font-size="6.4" text-anchor="end" fill="#231f20">70</text>
<text x="39.1" y="306.06" font-size="6.4" text-anchor="end" fill="#231f20">50</text>
<text x="39.1" y="315.28" font-size="6.4" text-anchor="end" fill="#231f20">30</text>
<text x="39.1" y="324.49" font-size="6.4" text-anchor="end" fill="#231f20">10</text>
<text x="39.1" y="333.7" font-size="6.4" text-anchor="end" fill="#231f20">&#8722;10</text>
<text x="111" y="270.1" font-size="6.4" text-anchor="end" fill="#231f20">130</text>
<text x="111" y="279.3" font-size="6.4" text-anchor="end" fill="#231f20">110</text>
<text x="111" y="288.5" font-size="6.4" text-anchor="end" fill="#231f20">90</text>
<text x="111" y="297.7" font-size="6.4" text-anchor="end" fill="#231f20">70</text>
<text x="111" y="306.9" font-size="6.4" text-anchor="end" fill="#231f20">50</text>
<text x="111" y="316.1" font-size="6.4" text-anchor="end" fill="#231f20">30</text>
<text x="111" y="325.3" font-size="6.4" text-anchor="end" fill="#231f20">10</text>
<text x="111" y="334.5" font-size="6.4" text-anchor="end" fill="#231f20">&#8722;10</text>
<text x="182.3" y="271.3" font-size="6.4" text-anchor="end" fill="#231f20">130</text>
<text x="182.3" y="280.3" font-size="6.4" text-anchor="end" fill="#231f20">110</text>
<text x="182.3" y="289.3" font-size="6.4" text-anchor="end" fill="#231f20">90</text>
<text x="182.3" y="298.3" font-size="6.4" text-anchor="end" fill="#231f20">70</text>
<text x="182.3" y="307.3" font-size="6.4" text-anchor="end" fill="#231f20">50</text>
<text x="182.3" y="316.3" font-size="6.4" text-anchor="end" fill="#231f20">30</text>
<text x="182.3" y="325.3" font-size="6.4" text-anchor="end" fill="#231f20">10</text>
<text x="182.3" y="334.3" font-size="6.4" text-anchor="end" fill="#231f20">&#8722;10</text>
<rect x="50" y="325.59" width="8.75" height="2.2" fill="#151515"/>
<rect x="64.5" y="323.11" width="9.25" height="3.69" fill="#27a2dc"/>
<line x1="69.5" y1="323.11" x2="69.5" y2="312.05" stroke="#231f20" stroke-width="1.0"/>
<line x1="66.9" y1="312.05" x2="72.1" y2="312.05" stroke="#231f20" stroke-width="1.1"/>
<rect x="78.75" y="283.95" width="9.25" height="42.85" fill="#cb0a2b"/>
<line x1="83.5" y1="283.95" x2="83.5" y2="273.81" stroke="#231f20" stroke-width="1.0"/>
<line x1="80.9" y1="273.81" x2="86.1" y2="273.81" stroke="#231f20" stroke-width="1.1"/>
<circle cx="69.1" cy="296.85" r="0.8" fill="#231f20" stroke="#231f20" stroke-width="0"/>
<circle cx="66" cy="325.87" r="0.8" fill="#1b5f88" stroke="#231f20" stroke-width="0"/>
<circle cx="67.6" cy="324.49" r="0.8" fill="#1b5f88" stroke="#231f20" stroke-width="0"/>
<circle cx="69.2" cy="325.87" r="0.8" fill="#1b5f88" stroke="#231f20" stroke-width="0"/>
<circle cx="70.8" cy="324.49" r="0.8" fill="#1b5f88" stroke="#231f20" stroke-width="0"/>
<circle cx="72.4" cy="325.87" r="0.8" fill="#1b5f88" stroke="#231f20" stroke-width="0"/>
<rect x="78.25" y="279.72" width="10.25" height="2.1" fill="#111"/>
<rect x="78.75" y="281.82" width="9.25" height="0.8" fill="#e8a0a8"/>
<rect x="121.25" y="326.4" width="8.75" height="2.2" fill="#151515"/>
<rect x="136.25" y="323" width="9.25" height="4.6" fill="#27a2dc"/>
<line x1="140.5" y1="323" x2="140.5" y2="309.2" stroke="#231f20" stroke-width="1.0"/>
<line x1="137.9" y1="309.2" x2="143.1" y2="309.2" stroke="#231f20" stroke-width="1.1"/>
<rect x="150" y="285.74" width="9.25" height="41.86" fill="#cb0a2b"/>
<line x1="154.5" y1="285.74" x2="154.5" y2="275.16" stroke="#231f20" stroke-width="1.0"/>
<line x1="151.9" y1="275.16" x2="157.1" y2="275.16" stroke="#231f20" stroke-width="1.1"/>
<circle cx="140.85" cy="292.18" r="0.8" fill="#231f20" stroke="#231f20" stroke-width="0"/>
<circle cx="137.75" cy="326.68" r="0.8" fill="#1b5f88" stroke="#231f20" stroke-width="0"/>
<circle cx="139.35" cy="325.3" r="0.8" fill="#1b5f88" stroke="#231f20" stroke-width="0"/>
<circle cx="140.95" cy="326.68" r="0.8" fill="#1b5f88" stroke="#231f20" stroke-width="0"/>
<circle cx="142.55" cy="325.3" r="0.8" fill="#1b5f88" stroke="#231f20" stroke-width="0"/>
<circle cx="144.15" cy="326.68" r="0.8" fill="#1b5f88" stroke="#231f20" stroke-width="0"/>
<rect x="149.5" y="280.6" width="10.25" height="2.1" fill="#111"/>
<rect x="150" y="282.7" width="9.25" height="0.8" fill="#e8a0a8"/>
<rect x="192.5" y="326.3" width="8.75" height="2.2" fill="#151515"/>
<rect x="207.5" y="325.25" width="9.25" height="2.25" fill="#27a2dc"/>
<line x1="212.5" y1="325.25" x2="212.5" y2="317.15" stroke="#231f20" stroke-width="1.0"/>
<line x1="209.9" y1="317.15" x2="215.1" y2="317.15" stroke="#231f20" stroke-width="1.1"/>
<rect x="221.25" y="286.1" width="9.25" height="41.4" fill="#cb0a2b"/>
<line x1="225.5" y1="286.1" x2="225.5" y2="275.75" stroke="#231f20" stroke-width="1.0"/>
<line x1="222.9" y1="275.75" x2="228.1" y2="275.75" stroke="#231f20" stroke-width="1.1"/>
<circle cx="212.1" cy="309.5" r="0.8" fill="#231f20" stroke="#231f20" stroke-width="0"/>
<circle cx="209" cy="326.6" r="0.8" fill="#1b5f88" stroke="#231f20" stroke-width="0"/>
<circle cx="210.6" cy="325.25" r="0.8" fill="#1b5f88" stroke="#231f20" stroke-width="0"/>
<circle cx="212.2" cy="326.6" r="0.8" fill="#1b5f88" stroke="#231f20" stroke-width="0"/>
<circle cx="213.8" cy="325.25" r="0.8" fill="#1b5f88" stroke="#231f20" stroke-width="0"/>
<circle cx="215.4" cy="326.6" r="0.8" fill="#1b5f88" stroke="#231f20" stroke-width="0"/>
<rect x="220.75" y="281.5" width="10.25" height="2.1" fill="#111"/>
<rect x="221.25" y="283.6" width="9.25" height="0.8" fill="#e8a0a8"/>
<text x="67.1" y="252.1" font-size="8.3" text-anchor="middle" fill="#231f20" textLength="30" lengthAdjust="spacingAndGlyphs">5 weeks</text>
<text x="138" y="252.1" font-size="8.3" text-anchor="middle" fill="#231f20" textLength="35" lengthAdjust="spacingAndGlyphs">10 weeks</text>
<text x="208.4" y="252.1" font-size="8.3" text-anchor="middle" fill="#231f20" textLength="35.5" lengthAdjust="spacingAndGlyphs">25 weeks</text>
<line x1="68.75" y1="268.3" x2="82.5" y2="268.3" stroke="#3a3a3a" stroke-width="0.9"/>
<line x1="68.75" y1="267" x2="68.75" y2="269.6" stroke="#3a3a3a" stroke-width="0.9"/>
<line x1="82.5" y1="267" x2="82.5" y2="269.6" stroke="#3a3a3a" stroke-width="0.9"/>
<text x="75.62" y="265.8" font-size="7" text-anchor="middle" fill="#222" textLength="9.8" lengthAdjust="spacingAndGlyphs">****</text>
<line x1="138.75" y1="268.3" x2="153.75" y2="268.3" stroke="#3a3a3a" stroke-width="0.9"/>
<line x1="138.75" y1="267" x2="138.75" y2="269.6" stroke="#3a3a3a" stroke-width="0.9"/>
<line x1="153.75" y1="267" x2="153.75" y2="269.6" stroke="#3a3a3a" stroke-width="0.9"/>
<text x="146.25" y="265.8" font-size="7" text-anchor="middle" fill="#222" textLength="9.8" lengthAdjust="spacingAndGlyphs">****</text>
<line x1="210.75" y1="268.3" x2="224.5" y2="268.3" stroke="#3a3a3a" stroke-width="0.9"/>
<line x1="210.75" y1="267" x2="210.75" y2="269.6" stroke="#3a3a3a" stroke-width="0.9"/>
<line x1="224.5" y1="267" x2="224.5" y2="269.6" stroke="#3a3a3a" stroke-width="0.9"/>
<text x="217.62" y="265.8" font-size="7" text-anchor="middle" fill="#222" textLength="9.8" lengthAdjust="spacingAndGlyphs">****</text>
<text x="14.38" y="297.95" font-size="9" text-anchor="middle" fill="#231f20" textLength="58.1" lengthAdjust="spacingAndGlyphs" transform="rotate(-90 14.38 297.95)">% Donor chimerism</text>
<text x="25.18" y="297.6" font-size="9" text-anchor="middle" fill="#231f20" textLength="33.2" lengthAdjust="spacingAndGlyphs" transform="rotate(-90 25.18 297.6)">(CD45.1+)</text>
<text x="273.5" y="269.6" font-size="6.4" text-anchor="end" fill="#231f20">22</text>
<text x="273.5" y="285.65" font-size="6.4" text-anchor="end" fill="#231f20">16</text>
<text x="273.5" y="301.7" font-size="6.4" text-anchor="end" fill="#231f20">10</text>
<text x="273.5" y="317.75" font-size="6.4" text-anchor="end" fill="#231f20">4</text>
<text x="273.5" y="333.8" font-size="6.4" text-anchor="end" fill="#231f20">&#8722;2</text>
<rect x="283" y="324.95" width="10.75" height="2.2" fill="#151515"/>
<rect x="298.75" y="325.75" width="8.75" height="0.4" fill="#27a2dc"/>
<rect x="313.75" y="314.38" width="8.75" height="11.77" fill="#cb0a2b"/>
<line x1="318.5" y1="314.38" x2="318.5" y2="303.41" stroke="#231f20" stroke-width="1.0"/>
<line x1="315.9" y1="303.41" x2="321.1" y2="303.41" stroke="#231f20" stroke-width="1.1"/>
<circle cx="318" cy="280.68" r="0.95" fill="#231f20" stroke="#231f20" stroke-width="0"/>
<circle cx="318" cy="291.38" r="0.95" fill="#231f20" stroke="#231f20" stroke-width="0"/>
<circle cx="317" cy="296.73" r="0.95" fill="#231f20" stroke="#231f20" stroke-width="0"/>
<circle cx="319" cy="302.07" r="0.95" fill="#231f20" stroke="#231f20" stroke-width="0"/>
<circle cx="316" cy="307.43" r="0.95" fill="#231f20" stroke="#231f20" stroke-width="0"/>
<circle cx="320" cy="310.1" r="0.95" fill="#231f20" stroke="#231f20" stroke-width="0"/>
<circle cx="318" cy="312.77" r="0.95" fill="#231f20" stroke="#231f20" stroke-width="0"/>
<circle cx="315" cy="318.12" r="0.95" fill="#231f20" stroke="#231f20" stroke-width="0"/>
<circle cx="321" cy="319.46" r="0.95" fill="#231f20" stroke="#231f20" stroke-width="0"/>
<circle cx="318" cy="323.48" r="0.95" fill="#231f20" stroke="#231f20" stroke-width="0"/>
<circle cx="315.5" cy="311.44" r="0.95" fill="#231f20" stroke="#231f20" stroke-width="0"/>
<circle cx="320.5" cy="314.11" r="0.95" fill="#231f20" stroke="#231f20" stroke-width="0"/>
<circle cx="317" cy="315.99" r="0.95" fill="#231f20" stroke="#231f20" stroke-width="0"/>
<circle cx="319.5" cy="320.8" r="0.95" fill="#231f20" stroke="#231f20" stroke-width="0"/>
<circle cx="316" cy="322.14" r="0.95" fill="#231f20" stroke="#231f20" stroke-width="0"/>
<circle cx="321" cy="306.09" r="0.95" fill="#231f20" stroke="#231f20" stroke-width="0"/>
<circle cx="315" cy="304.22" r="0.95" fill="#231f20" stroke="#231f20" stroke-width="0"/>
<circle cx="301" cy="325.35" r="0.95" fill="#231f20" stroke="#231f20" stroke-width="0"/>
<circle cx="303" cy="324.01" r="0.95" fill="#231f20" stroke="#231f20" stroke-width="0"/>
<circle cx="305" cy="325.35" r="0.95" fill="#231f20" stroke="#231f20" stroke-width="0"/>
<text x="303.75" y="252.1" font-size="8.3" text-anchor="middle" fill="#231f20" textLength="35" lengthAdjust="spacingAndGlyphs">25 weeks</text>
<line x1="302" y1="271.25" x2="316.25" y2="271.25" stroke="#3a3a3a" stroke-width="0.9"/>
<line x1="302" y1="269.95" x2="302" y2="272.55" stroke="#3a3a3a" stroke-width="0.9"/>
<line x1="316.25" y1="269.95" x2="316.25" y2="272.55" stroke="#3a3a3a" stroke-width="0.9"/>
<text x="309.12" y="268.6" font-size="7" text-anchor="middle" fill="#222" textLength="2.45" lengthAdjust="spacingAndGlyphs">*</text>
<text x="252.38" y="299" font-size="9" text-anchor="middle" fill="#231f20" textLength="42.6" lengthAdjust="spacingAndGlyphs" transform="rotate(-90 252.38 299)">% Donor T cell</text>
<text x="261.78" y="297.6" font-size="9" text-anchor="middle" fill="#231f20" textLength="64.2" lengthAdjust="spacingAndGlyphs" transform="rotate(-90 261.78 297.6)">chimerism (CD45.1<tspan font-size="4.6" dy="-2.6">+</tspan><tspan dy="2.6">)</tspan></text>
<text x="363.9" y="269.6" font-size="6.4" text-anchor="end" fill="#231f20">40</text>
<text x="363.9" y="278.78" font-size="6.4" text-anchor="end" fill="#231f20">34</text>
<text x="363.9" y="287.95" font-size="6.4" text-anchor="end" fill="#231f20">28</text>
<text x="363.9" y="297.12" font-size="6.4" text-anchor="end" fill="#231f20">22</text>
<text x="363.9" y="306.29" font-size="6.4" text-anchor="end" fill="#231f20">16</text>
<text x="363.9" y="315.46" font-size="6.4" text-anchor="end" fill="#231f20">10</text>
<text x="363.9" y="324.63" font-size="6.4" text-anchor="end" fill="#231f20">4</text>
<text x="363.9" y="333.8" font-size="6.4" text-anchor="end" fill="#231f20">&#8722;2</text>
<rect x="375" y="327.24" width="9.5" height="2.2" fill="#151515"/>
<rect x="389.5" y="326.91" width="9.75" height="1.53" fill="#27a2dc"/>
<line x1="394.5" y1="326.91" x2="394.5" y2="320.04" stroke="#231f20" stroke-width="1.0"/>
<line x1="391.9" y1="320.04" x2="397.1" y2="320.04" stroke="#231f20" stroke-width="1.1"/>
<rect x="403.75" y="295.58" width="9.5" height="32.86" fill="#cb0a2b"/>
<line x1="408.5" y1="295.58" x2="408.5" y2="282.59" stroke="#231f20" stroke-width="1.0"/>
<line x1="405.9" y1="282.59" x2="411.1" y2="282.59" stroke="#231f20" stroke-width="1.1"/>
<circle cx="394.4" cy="313.16" r="0.95" fill="#231f20" stroke="#231f20" stroke-width="0"/>
<circle cx="392" cy="327.68" r="0.95" fill="#231f20" stroke="#231f20" stroke-width="0"/>
<circle cx="396" cy="327.22" r="0.95" fill="#231f20" stroke="#231f20" stroke-width="0"/>
<circle cx="406" cy="279.53" r="0.95" fill="#231f20" stroke="#231f20" stroke-width="0"/>
<circle cx="408" cy="281.06" r="0.95" fill="#231f20" stroke="#231f20" stroke-width="0"/>
<circle cx="410" cy="282.59" r="0.95" fill="#231f20" stroke="#231f20" stroke-width="0"/>
<circle cx="407" cy="285.64" r="0.95" fill="#231f20" stroke="#231f20" stroke-width="0"/>
<circle cx="409" cy="288.7" r="0.95" fill="#231f20" stroke="#231f20" stroke-width="0"/>
<circle cx="408" cy="294.81" r="0.95" fill="#231f20" stroke="#231f20" stroke-width="0"/>
<circle cx="406" cy="300.93" r="0.95" fill="#231f20" stroke="#231f20" stroke-width="0"/>
<circle cx="410" cy="305.51" r="0.95" fill="#231f20" stroke="#231f20" stroke-width="0"/>
<circle cx="408" cy="320.8" r="0.95" fill="#231f20" stroke="#231f20" stroke-width="0"/>
<circle cx="405.5" cy="296.34" r="0.95" fill="#231f20" stroke="#231f20" stroke-width="0"/>
<circle cx="411" cy="297.87" r="0.95" fill="#231f20" stroke="#231f20" stroke-width="0"/>
<circle cx="407" cy="303.99" r="0.95" fill="#231f20" stroke="#231f20" stroke-width="0"/>
<circle cx="410.5" cy="308.57" r="0.95" fill="#231f20" stroke="#231f20" stroke-width="0"/>
<circle cx="406" cy="313.16" r="0.95" fill="#231f20" stroke="#231f20" stroke-width="0"/>
<polygon points="404.7,279.04 407.3,279.04 406,276.7" fill="#231f20" stroke="#231f20" stroke-width="0"/>
<polygon points="408.2,281.33 410.8,281.33 409.5,278.99" fill="#231f20" stroke="#231f20" stroke-width="0"/>
<polygon points="410.2,281.33 412.8,281.33 411.5,278.99" fill="#231f20" stroke="#231f20" stroke-width="0"/>
<polygon points="408.2,285.15 410.8,285.15 409.5,282.81" fill="#231f20" stroke="#231f20" stroke-width="0"/>
<text x="394.75" y="252.1" font-size="8.3" text-anchor="middle" fill="#231f20" textLength="35.5" lengthAdjust="spacingAndGlyphs">25 weeks</text>
<line x1="394.5" y1="270.75" x2="408.25" y2="270.75" stroke="#3a3a3a" stroke-width="0.9"/>
<line x1="394.5" y1="269.45" x2="394.5" y2="272.05" stroke="#3a3a3a" stroke-width="0.9"/>
<line x1="408.25" y1="269.45" x2="408.25" y2="272.05" stroke="#3a3a3a" stroke-width="0.9"/>
<text x="401.38" y="267.85" font-size="7" text-anchor="middle" fill="#222" textLength="9.8" lengthAdjust="spacingAndGlyphs">****</text>
<text x="342.38" y="298.3" font-size="9" text-anchor="middle" fill="#231f20" textLength="42.6" lengthAdjust="spacingAndGlyphs" transform="rotate(-90 342.38 298.3)">% Donor B cell</text>
<text x="352.48" y="297.95" font-size="9" text-anchor="middle" fill="#231f20" textLength="64.9" lengthAdjust="spacingAndGlyphs" transform="rotate(-90 352.48 297.95)">chimerism (CD45.1<tspan font-size="4.6" dy="-2.6">+</tspan><tspan dy="2.6">)</tspan></text>
<rect x="337" y="277.5" width="4.5" height="5.5" fill="#aaa"/>
<text x="458.5" y="269.2" font-size="6.4" text-anchor="end" fill="#231f20">115</text>
<text x="458.5" y="279.97" font-size="6.4" text-anchor="end" fill="#231f20">95</text>
<text x="458.5" y="290.74" font-size="6.4" text-anchor="end" fill="#231f20">75</text>
<text x="458.5" y="301.5" font-size="6.4" text-anchor="end" fill="#231f20">55</text>
<text x="458.5" y="312.27" font-size="6.4" text-anchor="end" fill="#231f20">35</text>
<text x="458.5" y="323.04" font-size="6.4" text-anchor="end" fill="#231f20">15</text>
<text x="458.5" y="333.8" font-size="6.4" text-anchor="end" fill="#231f20">&#8722;5</text>
<rect x="469.5" y="327.61" width="9.25" height="2.2" fill="#151515"/>
<rect x="483.75" y="321.27" width="9.25" height="7.54" fill="#27a2dc"/>
<line x1="488.5" y1="321.27" x2="488.5" y2="300.81" stroke="#231f20" stroke-width="1.0"/>
<line x1="485.9" y1="300.81" x2="491.1" y2="300.81" stroke="#231f20" stroke-width="1.1"/>
<rect x="498" y="292.2" width="9.5" height="36.61" fill="#cb0a2b"/>
<line x1="502.5" y1="292.2" x2="502.5" y2="285.74" stroke="#231f20" stroke-width="1.0"/>
<line x1="499.9" y1="285.74" x2="505.1" y2="285.74" stroke="#231f20" stroke-width="1.1"/>
<circle cx="488.4" cy="280.36" r="0.95" fill="#231f20" stroke="#231f20" stroke-width="0"/>
<circle cx="500" cy="284.66" r="0.95" fill="#231f20" stroke="#231f20" stroke-width="0"/>
<circle cx="503" cy="285.74" r="0.95" fill="#231f20" stroke="#231f20" stroke-width="0"/>
<circle cx="506" cy="286.82" r="0.95" fill="#231f20" stroke="#231f20" stroke-width="0"/>
<circle cx="501" cy="290.05" r="0.95" fill="#231f20" stroke="#231f20" stroke-width="0"/>
<circle cx="505" cy="291.12" r="0.95" fill="#231f20" stroke="#231f20" stroke-width="0"/>
<circle cx="503" cy="293.82" r="0.95" fill="#231f20" stroke="#231f20" stroke-width="0"/>
<circle cx="500" cy="295.43" r="0.95" fill="#231f20" stroke="#231f20" stroke-width="0"/>
<circle cx="506" cy="296.51" r="0.95" fill="#231f20" stroke="#231f20" stroke-width="0"/>
<circle cx="499.5" cy="292.2" r="0.95" fill="#231f20" stroke="#231f20" stroke-width="0"/>
<circle cx="502" cy="293.28" r="0.95" fill="#231f20" stroke="#231f20" stroke-width="0"/>
<circle cx="504.5" cy="294.35" r="0.95" fill="#231f20" stroke="#231f20" stroke-width="0"/>
<circle cx="501" cy="297.58" r="0.95" fill="#231f20" stroke="#231f20" stroke-width="0"/>
<circle cx="505" cy="298.12" r="0.95" fill="#231f20" stroke="#231f20" stroke-width="0"/>
<polygon points="501.7,288.94 504.3,288.94 503,286.59" fill="#231f20" stroke="#231f20" stroke-width="0"/>
<polygon points="504.2,290.01 506.8,290.01 505.5,287.67" fill="#231f20" stroke="#231f20" stroke-width="0"/>
<polygon points="499.2,290.01 501.8,290.01 500.5,287.67" fill="#231f20" stroke="#231f20" stroke-width="0"/>
<text x="486" y="252.1" font-size="8.3" text-anchor="middle" fill="#231f20" textLength="35" lengthAdjust="spacingAndGlyphs">25 weeks</text>
<line x1="488.75" y1="271.25" x2="502.5" y2="271.25" stroke="#3a3a3a" stroke-width="0.9"/>
<line x1="488.75" y1="269.95" x2="488.75" y2="272.55" stroke="#3a3a3a" stroke-width="0.9"/>
<line x1="502.5" y1="269.95" x2="502.5" y2="272.55" stroke="#3a3a3a" stroke-width="0.9"/>
<text x="495.62" y="268.6" font-size="7" text-anchor="middle" fill="#222" textLength="9.8" lengthAdjust="spacingAndGlyphs">****</text>
<text x="432.98" y="297.85" font-size="9" text-anchor="middle" fill="#231f20" textLength="63.7" lengthAdjust="spacingAndGlyphs" transform="rotate(-90 432.98 297.85)">% Donor myeloid cell</text>
<text x="442.48" y="297.6" font-size="9" text-anchor="middle" fill="#231f20" textLength="64.2" lengthAdjust="spacingAndGlyphs" transform="rotate(-90 442.48 297.6)">chimerism (CD45.1<tspan font-size="4.6" dy="-2.6">+</tspan><tspan dy="2.6">)</tspan></text>
<circle cx="137.7" cy="345.3" r="1.1" fill="#333" stroke="#231f20" stroke-width="0"/>
<text x="141.5" y="347.4" font-size="6.6" text-anchor="start" fill="#231f20" textLength="71.4" lengthAdjust="spacingAndGlyphs">Isotype-ADC (0.5 mg/kg)</text>
<circle cx="219.4" cy="345.3" r="1.1" fill="#333" stroke="#231f20" stroke-width="0"/>
<text x="223.3" y="347.4" font-size="6.6" text-anchor="start" fill="#231f20" textLength="66.4" lengthAdjust="spacingAndGlyphs">Isotype-ADC (1.5 mg/kg)</text>
<circle cx="301.7" cy="345.3" r="1.1" fill="#333" stroke="#231f20" stroke-width="0"/>
<text x="305.3" y="347.4" font-size="6.6" text-anchor="start" fill="#231f20" textLength="66.1" lengthAdjust="spacingAndGlyphs">CD45-ADC (1.5 mg/kg)</text>
<text x="39.4" y="395" font-size="6.4" text-anchor="end" fill="#231f20">115</text>
<text x="39.4" y="405.59" font-size="6.4" text-anchor="end" fill="#231f20">95</text>
<text x="39.4" y="416.17" font-size="6.4" text-anchor="end" fill="#231f20">75</text>
<text x="39.4" y="426.75" font-size="6.4" text-anchor="end" fill="#231f20">55</text>
<text x="39.4" y="437.34" font-size="6.4" text-anchor="end" fill="#231f20">35</text>
<text x="39.4" y="447.92" font-size="6.4" text-anchor="end" fill="#231f20">15</text>
<text x="39.4" y="458.5" font-size="6.4" text-anchor="end" fill="#231f20">&#8722;5</text>
<rect x="48.75" y="452.5" width="16.75" height="1.06" fill="#27a2dc"/>
<line x1="57.5" y1="452.5" x2="57.5" y2="449.32" stroke="#231f20" stroke-width="1.0"/>
<line x1="54.9" y1="449.32" x2="60.1" y2="449.32" stroke="#231f20" stroke-width="1.1"/>
<rect x="73" y="402.75" width="13.4" height="50.8" fill="#cb0a2b"/>
<line x1="79.5" y1="402.75" x2="79.5" y2="401.96" stroke="#231f20" stroke-width="1.0"/>
<line x1="76.9" y1="401.96" x2="82.1" y2="401.96" stroke="#231f20" stroke-width="1.1"/>
<text x="68.3" y="374.3" font-size="8.3" text-anchor="middle" fill="#231f20" textLength="13.4" lengthAdjust="spacingAndGlyphs">BM</text>
<line x1="61.4" y1="392.5" x2="78.9" y2="392.5" stroke="#3a3a3a" stroke-width="0.9"/>
<line x1="61.4" y1="391.2" x2="61.4" y2="393.8" stroke="#3a3a3a" stroke-width="0.9"/>
<line x1="78.9" y1="391.2" x2="78.9" y2="393.8" stroke="#3a3a3a" stroke-width="0.9"/>
<text x="70.15" y="390.35" font-size="7" text-anchor="middle" fill="#222" textLength="9.8" lengthAdjust="spacingAndGlyphs">****</text>
<circle cx="50.55" cy="452.92" r="0.9" fill="#1b5f88" stroke="#231f20" stroke-width="0"/>
<circle cx="54.93" cy="452.92" r="0.9" fill="#1b5f88" stroke="#231f20" stroke-width="0"/>
<circle cx="59.32" cy="452.92" r="0.9" fill="#1b5f88" stroke="#231f20" stroke-width="0"/>
<circle cx="63.7" cy="452.92" r="0.9" fill="#1b5f88" stroke="#231f20" stroke-width="0"/>
<rect x="72.7" y="401.36" width="14" height="1.8" fill="#2a0a10"/>
<line x1="55.62" y1="449.32" x2="58.62" y2="449.32" stroke="#231f20" stroke-width="1.0"/>
<text x="111.4" y="393.5" font-size="6.4" text-anchor="end" fill="#231f20">115</text>
<text x="111.4" y="404.2" font-size="6.4" text-anchor="end" fill="#231f20">95</text>
<text x="111.4" y="414.9" font-size="6.4" text-anchor="end" fill="#231f20">75</text>
<text x="111.4" y="425.6" font-size="6.4" text-anchor="end" fill="#231f20">55</text>
<text x="111.4" y="436.3" font-size="6.4" text-anchor="end" fill="#231f20">35</text>
<text x="111.4" y="447" font-size="6.4" text-anchor="end" fill="#231f20">15</text>
<text x="111.4" y="457.7" font-size="6.4" text-anchor="end" fill="#231f20">&#8722;5</text>
<rect x="123.75" y="451.12" width="13.75" height="1.6" fill="#27a2dc"/>
<line x1="130.5" y1="451.12" x2="130.5" y2="447.91" stroke="#231f20" stroke-width="1.0"/>
<line x1="127.9" y1="447.91" x2="133.1" y2="447.91" stroke="#231f20" stroke-width="1.1"/>
<rect x="144" y="404.04" width="13.5" height="48.69" fill="#cb0a2b"/>
<line x1="150.5" y1="404.04" x2="150.5" y2="398.15" stroke="#231f20" stroke-width="1.0"/>
<line x1="147.9" y1="398.15" x2="153.1" y2="398.15" stroke="#231f20" stroke-width="1.1"/>
<text x="140.2" y="374.3" font-size="8.3" text-anchor="middle" fill="#231f20" textLength="29" lengthAdjust="spacingAndGlyphs">Thymus</text>
<line x1="131.3" y1="388.7" x2="149.8" y2="388.7" stroke="#3a3a3a" stroke-width="0.9"/>
<line x1="131.3" y1="387.4" x2="131.3" y2="390" stroke="#3a3a3a" stroke-width="0.9"/>
<line x1="149.8" y1="387.4" x2="149.8" y2="390" stroke="#3a3a3a" stroke-width="0.9"/>
<text x="140.55" y="386.19" font-size="7" text-anchor="middle" fill="#222" textLength="9.8" lengthAdjust="spacingAndGlyphs">****</text>
<circle cx="125.55" cy="452.08" r="0.9" fill="#1b5f88" stroke="#231f20" stroke-width="0"/>
<circle cx="128.93" cy="452.08" r="0.9" fill="#1b5f88" stroke="#231f20" stroke-width="0"/>
<circle cx="132.32" cy="452.08" r="0.9" fill="#1b5f88" stroke="#231f20" stroke-width="0"/>
<circle cx="135.7" cy="452.08" r="0.9" fill="#1b5f88" stroke="#231f20" stroke-width="0"/>
<circle cx="145.5" cy="400.56" r="0.95" fill="#231f20" stroke="#231f20" stroke-width="0"/>
<circle cx="148.1" cy="400.56" r="0.95" fill="#231f20" stroke="#231f20" stroke-width="0"/>
<circle cx="150.7" cy="400.56" r="0.95" fill="#231f20" stroke="#231f20" stroke-width="0"/>
<circle cx="153.3" cy="400.56" r="0.95" fill="#231f20" stroke="#231f20" stroke-width="0"/>
<circle cx="155.9" cy="400.56" r="0.95" fill="#231f20" stroke="#231f20" stroke-width="0"/>
<circle cx="151" cy="415.27" r="0.8" fill="#7a0a18" stroke="#231f20" stroke-width="0"/>
<text x="181.9" y="394.3" font-size="6.4" text-anchor="end" fill="#231f20">115</text>
<text x="181.9" y="405" font-size="6.4" text-anchor="end" fill="#231f20">95</text>
<text x="181.9" y="415.7" font-size="6.4" text-anchor="end" fill="#231f20">75</text>
<text x="181.9" y="426.4" font-size="6.4" text-anchor="end" fill="#231f20">55</text>
<text x="181.9" y="437.1" font-size="6.4" text-anchor="end" fill="#231f20">35</text>
<text x="181.9" y="447.8" font-size="6.4" text-anchor="end" fill="#231f20">15</text>
<text x="181.9" y="458.5" font-size="6.4" text-anchor="end" fill="#231f20">&#8722;5</text>
<rect x="195.4" y="450.85" width="13.2" height="2.67" fill="#27a2dc"/>
<line x1="202.5" y1="450.85" x2="202.5" y2="444.43" stroke="#231f20" stroke-width="1.0"/>
<line x1="199.9" y1="444.43" x2="205.1" y2="444.43" stroke="#231f20" stroke-width="1.1"/>
<rect x="216.2" y="412.87" width="12.5" height="40.66" fill="#cb0a2b"/>
<line x1="222.5" y1="412.87" x2="222.5" y2="396.28" stroke="#231f20" stroke-width="1.0"/>
<line x1="219.9" y1="396.28" x2="225.1" y2="396.28" stroke="#231f20" stroke-width="1.1"/>
<text x="210.6" y="374.3" font-size="8.3" text-anchor="middle" fill="#231f20" textLength="26.5" lengthAdjust="spacingAndGlyphs">Spleen</text>
<line x1="203" y1="388.2" x2="221.9" y2="388.2" stroke="#3a3a3a" stroke-width="0.9"/>
<line x1="203" y1="386.9" x2="203" y2="389.5" stroke="#3a3a3a" stroke-width="0.9"/>
<line x1="221.9" y1="386.9" x2="221.9" y2="389.5" stroke="#3a3a3a" stroke-width="0.9"/>
<text x="212.45" y="385.9" font-size="7" text-anchor="middle" fill="#222" textLength="4.9" lengthAdjust="spacingAndGlyphs">**</text>
<circle cx="197.2" cy="452.88" r="0.9" fill="#1b5f88" stroke="#231f20" stroke-width="0"/>
<circle cx="200.4" cy="452.88" r="0.9" fill="#1b5f88" stroke="#231f20" stroke-width="0"/>
<circle cx="203.6" cy="452.88" r="0.9" fill="#1b5f88" stroke="#231f20" stroke-width="0"/>
<circle cx="206.8" cy="452.88" r="0.9" fill="#1b5f88" stroke="#231f20" stroke-width="0"/>
<circle cx="219.7" cy="401.1" r="0.9" fill="#231f20" stroke="#231f20" stroke-width="0"/>
<circle cx="222.45" cy="401.1" r="0.9" fill="#231f20" stroke="#231f20" stroke-width="0"/>
<polygon points="224.1,403.05 226.3,403.05 225.2,401.06" fill="#231f20" stroke="#231f20" stroke-width="0"/>
<circle cx="222.45" cy="399.49" r="0.9" fill="#231f20" stroke="#231f20" stroke-width="0"/>
<circle cx="202" cy="441.75" r="0.9" fill="#231f20" stroke="#231f20" stroke-width="0"/>
<circle cx="222.45" cy="448.18" r="0.8" fill="#7a0a18" stroke="#231f20" stroke-width="0"/>
<text x="14.38" y="423.3" font-size="9" text-anchor="middle" fill="#231f20" textLength="58.8" lengthAdjust="spacingAndGlyphs" transform="rotate(-90 14.38 423.3)">% Donor chimerism</text>
<text x="25.18" y="423.32" font-size="9" text-anchor="middle" fill="#231f20" textLength="33.15" lengthAdjust="spacingAndGlyphs" transform="rotate(-90 25.18 423.32)">(CD45.1+)</text>
<text x="273.5" y="394.7" font-size="6.4" text-anchor="end" fill="#231f20">2.5</text>
<text x="273.5" y="407.32" font-size="6.4" text-anchor="end" fill="#231f20">2.0</text>
<text x="273.5" y="419.94" font-size="6.4" text-anchor="end" fill="#231f20">1.5</text>
<text x="273.5" y="432.56" font-size="6.4" text-anchor="end" fill="#231f20">1.0</text>
<text x="273.5" y="445.18" font-size="6.4" text-anchor="end" fill="#231f20">0.5</text>
<text x="273.5" y="457.8" font-size="6.4" text-anchor="end" fill="#231f20">0.0</text>
<rect x="286.25" y="452.47" width="11.25" height="3.03" fill="#27a2dc"/>
<line x1="291.5" y1="452.47" x2="291.5" y2="446.67" stroke="#231f20" stroke-width="1.0"/>
<line x1="288.9" y1="446.67" x2="294.1" y2="446.67" stroke="#231f20" stroke-width="1.1"/>
<rect x="304.6" y="418.9" width="12.1" height="36.6" fill="#cb0a2b"/>
<line x1="310.5" y1="418.9" x2="310.5" y2="408.81" stroke="#231f20" stroke-width="1.0"/>
<line x1="307.9" y1="408.81" x2="313.1" y2="408.81" stroke="#231f20" stroke-width="1.1"/>
<text x="301.25" y="374.3" font-size="8.3" text-anchor="middle" fill="#231f20" textLength="13.4" lengthAdjust="spacingAndGlyphs">BM</text>
<circle cx="310" cy="408.81" r="0.95" fill="#231f20" stroke="#231f20" stroke-width="0"/>
<circle cx="310" cy="415.12" r="0.95" fill="#231f20" stroke="#231f20" stroke-width="0"/>
<circle cx="306" cy="418.9" r="0.95" fill="#231f20" stroke="#231f20" stroke-width="0"/>
<circle cx="314" cy="418.9" r="0.95" fill="#231f20" stroke="#231f20" stroke-width="0"/>
<circle cx="310" cy="432.78" r="0.95" fill="#231f20" stroke="#231f20" stroke-width="0"/>
<circle cx="291.9" cy="447.93" r="0.95" fill="#231f20" stroke="#231f20" stroke-width="0"/>
<circle cx="289" cy="454.24" r="0.95" fill="#231f20" stroke="#231f20" stroke-width="0"/>
<circle cx="292" cy="454.24" r="0.95" fill="#231f20" stroke="#231f20" stroke-width="0"/>
<circle cx="295" cy="454.24" r="0.95" fill="#231f20" stroke="#231f20" stroke-width="0"/>
<line x1="293.75" y1="398" x2="310" y2="398" stroke="#3a3a3a" stroke-width="0.9"/>
<line x1="293.75" y1="396.7" x2="293.75" y2="399.3" stroke="#3a3a3a" stroke-width="0.9"/>
<line x1="310" y1="396.7" x2="310" y2="399.3" stroke="#3a3a3a" stroke-width="0.9"/>
<text x="301.88" y="395.35" font-size="7" text-anchor="middle" fill="#222" textLength="7.35" lengthAdjust="spacingAndGlyphs">***</text>
<text x="259.78" y="422.25" font-size="9" text-anchor="middle" fill="#231f20" textLength="67.5" lengthAdjust="spacingAndGlyphs" transform="rotate(-90 259.78 422.25)">Donor LSK cells (×10<tspan font-size="4.6" dy="-2.6">6</tspan><tspan dy="2.6">)</tspan></text>
<text x="364" y="394.5" font-size="6.4" text-anchor="end" fill="#231f20">0.9</text>
<text x="364" y="407.22" font-size="6.4" text-anchor="end" fill="#231f20">0.7</text>
<text x="364" y="419.94" font-size="6.4" text-anchor="end" fill="#231f20">0.5</text>
<text x="364" y="432.66" font-size="6.4" text-anchor="end" fill="#231f20">0.3</text>
<text x="364" y="445.38" font-size="6.4" text-anchor="end" fill="#231f20">0.1</text>
<text x="364" y="458.1" font-size="6.4" text-anchor="end" fill="#231f20">&#8722;0.1</text>
<rect x="376.25" y="448.8" width="11.25" height="0.64" fill="#27a2dc"/>
<rect x="395" y="417.64" width="12" height="31.8" fill="#cb0a2b"/>
<line x1="401.5" y1="417.64" x2="401.5" y2="404.92" stroke="#231f20" stroke-width="1.0"/>
<line x1="398.9" y1="404.92" x2="404.1" y2="404.92" stroke="#231f20" stroke-width="1.1"/>
<text x="388.75" y="374.3" font-size="8.3" text-anchor="middle" fill="#231f20" textLength="13.4" lengthAdjust="spacingAndGlyphs">BM</text>
<circle cx="401" cy="403.65" r="0.95" fill="#231f20" stroke="#231f20" stroke-width="0"/>
<circle cx="403" cy="403.01" r="0.95" fill="#231f20" stroke="#231f20" stroke-width="0"/>
<circle cx="398" cy="417.64" r="0.95" fill="#231f20" stroke="#231f20" stroke-width="0"/>
<circle cx="404" cy="417.64" r="0.95" fill="#231f20" stroke="#231f20" stroke-width="0"/>
<circle cx="401" cy="425.27" r="0.95" fill="#231f20" stroke="#231f20" stroke-width="0"/>
<circle cx="401" cy="430.36" r="0.95" fill="#231f20" stroke="#231f20" stroke-width="0"/>
<circle cx="378.5" cy="448.8" r="0.95" fill="#231f20" stroke="#231f20" stroke-width="0"/>
<circle cx="381.5" cy="448.17" r="0.95" fill="#231f20" stroke="#231f20" stroke-width="0"/>
<circle cx="384.5" cy="448.8" r="0.95" fill="#231f20" stroke="#231f20" stroke-width="0"/>
<line x1="382.5" y1="393.25" x2="400" y2="393.25" stroke="#3a3a3a" stroke-width="0.9"/>
<line x1="382.5" y1="391.95" x2="382.5" y2="394.55" stroke="#3a3a3a" stroke-width="0.9"/>
<line x1="400" y1="391.95" x2="400" y2="394.55" stroke="#3a3a3a" stroke-width="0.9"/>
<text x="391.25" y="391.6" font-size="7" text-anchor="middle" fill="#222" textLength="7.35" lengthAdjust="spacingAndGlyphs">***</text>
<text x="347.08" y="422.3" font-size="9" text-anchor="middle" fill="#231f20" textLength="74.4" lengthAdjust="spacingAndGlyphs" transform="rotate(-90 347.08 422.3)">Donor LTHSC cells (×10<tspan font-size="4.6" dy="-2.6">6</tspan><tspan dy="2.6">)</tspan></text>
<text x="458.5" y="393.3" font-size="6.4" text-anchor="end" fill="#231f20">0.15</text>
<text x="458.5" y="409.5" font-size="6.4" text-anchor="end" fill="#231f20">0.11</text>
<text x="458.5" y="425.7" font-size="6.4" text-anchor="end" fill="#231f20">0.07</text>
<text x="458.5" y="441.9" font-size="6.4" text-anchor="end" fill="#231f20">0.03</text>
<text x="458.5" y="458.1" font-size="6.4" text-anchor="end" fill="#231f20">&#8722;0.01</text>
<rect x="472.5" y="444.46" width="13.25" height="7.29" fill="#27a2dc"/>
<line x1="479.5" y1="444.46" x2="479.5" y2="431.5" stroke="#231f20" stroke-width="1.0"/>
<line x1="476.9" y1="431.5" x2="482.1" y2="431.5" stroke="#231f20" stroke-width="1.1"/>
<rect x="493" y="412.06" width="13.25" height="39.69" fill="#cb0a2b"/>
<line x1="499.5" y1="412.06" x2="499.5" y2="399.91" stroke="#231f20" stroke-width="1.0"/>
<line x1="496.9" y1="399.91" x2="502.1" y2="399.91" stroke="#231f20" stroke-width="1.1"/>
<text x="487.5" y="374.3" font-size="8.3" text-anchor="middle" fill="#231f20" textLength="13.4" lengthAdjust="spacingAndGlyphs">BM</text>
<circle cx="499.6" cy="397.88" r="0.95" fill="#231f20" stroke="#231f20" stroke-width="0"/>
<circle cx="497" cy="411.25" r="0.95" fill="#231f20" stroke="#231f20" stroke-width="0"/>
<circle cx="502" cy="411.25" r="0.95" fill="#231f20" stroke="#231f20" stroke-width="0"/>
<circle cx="499.6" cy="415.3" r="0.95" fill="#231f20" stroke="#231f20" stroke-width="0"/>
<circle cx="499.6" cy="419.35" r="0.95" fill="#231f20" stroke="#231f20" stroke-width="0"/>
<circle cx="479" cy="437.17" r="0.95" fill="#231f20" stroke="#231f20" stroke-width="0"/>
<circle cx="475" cy="451.35" r="0.95" fill="#231f20" stroke="#231f20" stroke-width="0"/>
<circle cx="479" cy="451.35" r="0.95" fill="#231f20" stroke="#231f20" stroke-width="0"/>
<circle cx="483" cy="451.35" r="0.95" fill="#231f20" stroke="#231f20" stroke-width="0"/>
<line x1="480.5" y1="387" x2="499.5" y2="387" stroke="#3a3a3a" stroke-width="0.9"/>
<line x1="480.5" y1="385.7" x2="480.5" y2="388.3" stroke="#3a3a3a" stroke-width="0.9"/>
<line x1="499.5" y1="385.7" x2="499.5" y2="388.3" stroke="#3a3a3a" stroke-width="0.9"/>
<text x="490" y="386.1" font-size="7" text-anchor="middle" fill="#222" textLength="4.9" lengthAdjust="spacingAndGlyphs">**</text>
<text x="437.78" y="421.65" font-size="9" text-anchor="middle" fill="#231f20" textLength="75.7" lengthAdjust="spacingAndGlyphs" transform="rotate(-90 437.78 421.65)">Donor STHSC cells (×10<tspan font-size="4.6" dy="-2.6">6</tspan><tspan dy="2.6">)</tspan></text>
<circle cx="178.2" cy="469.7" r="1.1" fill="#333" stroke="#231f20" stroke-width="0"/>
<text x="182.4" y="471.8" font-size="6.6" text-anchor="start" fill="#231f20" textLength="69.3" lengthAdjust="spacingAndGlyphs">Isotype-ADC (1.5 mg/kg)</text>
<circle cx="259.9" cy="469.7" r="1.1" fill="#333" stroke="#231f20" stroke-width="0"/>
<text x="264.8" y="471.8" font-size="6.6" text-anchor="start" fill="#231f20" textLength="66" lengthAdjust="spacingAndGlyphs">CD45-ADC (1.5 mg/kg)</text>
<text x="39.4" y="508.8" font-size="6.4" text-anchor="end" fill="#231f20">120</text>
<text x="39.4" y="518.39" font-size="6.4" text-anchor="end" fill="#231f20">100</text>
<text x="39.4" y="527.97" font-size="6.4" text-anchor="end" fill="#231f20">80</text>
<text x="39.4" y="537.55" font-size="6.4" text-anchor="end" fill="#231f20">60</text>
<text x="39.4" y="547.14" font-size="6.4" text-anchor="end" fill="#231f20">40</text>
<text x="39.4" y="556.72" font-size="6.4" text-anchor="end" fill="#231f20">20</text>
<text x="39.4" y="566.3" font-size="6.4" text-anchor="end" fill="#231f20">0</text>
<rect x="52.5" y="516.08" width="12.5" height="47.92" fill="#27a2dc"/>
<rect x="52.1" y="514.68" width="13.3" height="2.5" rx="1.2" fill="#3a4450"/>
<rect x="70" y="516.56" width="12.5" height="47.44" fill="#cb0a2b"/>
<rect x="69.6" y="514.68" width="13.3" height="2.5" rx="1.2" fill="#3a4450"/>
<rect x="88.75" y="516.08" width="12.5" height="47.92" fill="#3aa935"/>
<rect x="88.35" y="514.68" width="13.3" height="2.5" rx="1.2" fill="#3a4450"/>
<text x="74" y="501.8" font-size="8.3" text-anchor="middle" fill="#231f20" textLength="30.2" lengthAdjust="spacingAndGlyphs">5 weeks</text>
<text x="143.9" y="508.8" font-size="6.4" text-anchor="end" fill="#231f20">120</text>
<text x="143.9" y="518.39" font-size="6.4" text-anchor="end" fill="#231f20">100</text>
<text x="143.9" y="527.97" font-size="6.4" text-anchor="end" fill="#231f20">80</text>
<text x="143.9" y="537.55" font-size="6.4" text-anchor="end" fill="#231f20">60</text>
<text x="143.9" y="547.14" font-size="6.4" text-anchor="end" fill="#231f20">40</text>
<text x="143.9" y="556.72" font-size="6.4" text-anchor="end" fill="#231f20">20</text>
<text x="143.9" y="566.3" font-size="6.4" text-anchor="end" fill="#231f20">0</text>
<rect x="157.5" y="516.08" width="12.5" height="47.92" fill="#27a2dc"/>
<rect x="157.1" y="514.68" width="13.3" height="2.5" rx="1.2" fill="#3a4450"/>
<rect x="178" y="516.56" width="12.5" height="47.44" fill="#cb0a2b"/>
<rect x="177.6" y="514.68" width="13.3" height="2.5" rx="1.2" fill="#3a4450"/>
<rect x="198" y="516.08" width="12.5" height="47.92" fill="#3aa935"/>
<rect x="197.6" y="514.68" width="13.3" height="2.5" rx="1.2" fill="#3a4450"/>
<text x="183.4" y="501.8" font-size="8.3" text-anchor="middle" fill="#231f20" textLength="34.3" lengthAdjust="spacingAndGlyphs">10 weeks</text>
<text x="255.15" y="508.8" font-size="6.4" text-anchor="end" fill="#231f20">120</text>
<text x="255.15" y="518.39" font-size="6.4" text-anchor="end" fill="#231f20">100</text>
<text x="255.15" y="527.97" font-size="6.4" text-anchor="end" fill="#231f20">80</text>
<text x="255.15" y="537.55" font-size="6.4" text-anchor="end" fill="#231f20">60</text>
<text x="255.15" y="547.14" font-size="6.4" text-anchor="end" fill="#231f20">40</text>
<text x="255.15" y="556.72" font-size="6.4" text-anchor="end" fill="#231f20">20</text>
<text x="255.15" y="566.3" font-size="6.4" text-anchor="end" fill="#231f20">0</text>
<rect x="268.75" y="516.08" width="12.5" height="47.92" fill="#27a2dc"/>
<rect x="268.35" y="514.68" width="13.3" height="2.5" rx="1.2" fill="#3a4450"/>
<rect x="289.5" y="516.56" width="12.5" height="47.44" fill="#cb0a2b"/>
<rect x="289.1" y="514.68" width="13.3" height="2.5" rx="1.2" fill="#3a4450"/>
<rect x="308.75" y="516.08" width="12.5" height="47.92" fill="#3aa935"/>
<rect x="308.35" y="514.68" width="13.3" height="2.5" rx="1.2" fill="#3a4450"/>
<text x="293.75" y="501.8" font-size="8.3" text-anchor="middle" fill="#231f20" textLength="35" lengthAdjust="spacingAndGlyphs">18 weeks</text>
<text x="14.38" y="533.6" font-size="9" text-anchor="middle" fill="#231f20" textLength="58.8" lengthAdjust="spacingAndGlyphs" transform="rotate(-90 14.38 533.6)">% Donor chimerism</text>
<text x="24.78" y="533.55" font-size="9" text-anchor="middle" fill="#231f20" textLength="33.1" lengthAdjust="spacingAndGlyphs" transform="rotate(-90 24.78 533.55)">(CD45.1+)</text>
<circle cx="331" cy="525.4" r="1.15" fill="none" stroke="#231f20" stroke-width="0.75"/>
<text x="335.7" y="527.63" font-size="6.2" text-anchor="start" fill="#231f20" textLength="65.4" lengthAdjust="spacingAndGlyphs">B6 CD45.1&gt;B6 CD45.2</text>
<polygon points="329.6,534.97 332.4,534.97 331,532.45" fill="#231f20" stroke="#231f20" stroke-width="0"/>
<text x="335.7" y="536.08" font-size="6.2" text-anchor="start" fill="#231f20" textLength="163.2" lengthAdjust="spacingAndGlyphs">B6 CD45.1&gt;FancA<tspan font-size="4.2" dy="-2.4">&#8722;/&#8722;</tspan><tspan dy="2.4"> </tspan>(CD45-ADC; 1.5 mg/kg)&gt;B6 CD45.2</text>
<polygon points="331,540.9 332.4,542.3 331,543.7 329.6,542.3" fill="#231f20"/>
<text x="335.7" y="544.53" font-size="6.2" text-anchor="start" fill="#231f20" textLength="155.4" lengthAdjust="spacingAndGlyphs">B6 CD45.1&gt;FancA<tspan font-size="4.2" dy="-2.4">&#8722;/&#8722;</tspan><tspan dy="2.4"> </tspan>(CD45-ADC; 3mg/kg)&gt;B6 CD45.2</text>
<text x="36.3" y="598.6" font-size="6.4" text-anchor="end" fill="#231f20">20</text>
<text x="36.3" y="613.33" font-size="6.4" text-anchor="end" fill="#231f20">15</text>
<text x="36.3" y="628.05" font-size="6.4" text-anchor="end" fill="#231f20">10</text>
<text x="36.3" y="642.78" font-size="6.4" text-anchor="end" fill="#231f20">5</text>
<text x="36.3" y="657.5" font-size="6.4" text-anchor="end" fill="#231f20">0</text>
<rect x="49" y="641.06" width="13.2" height="14.14" fill="#27a2dc"/>
<line x1="55.5" y1="641.06" x2="55.5" y2="625.75" stroke="#231f20" stroke-width="1.0"/>
<line x1="52.9" y1="625.75" x2="58.1" y2="625.75" stroke="#231f20" stroke-width="1.1"/>
<rect x="68.8" y="640.48" width="12.2" height="14.73" fill="#cb0a2b"/>
<line x1="74.5" y1="640.48" x2="74.5" y2="637.53" stroke="#231f20" stroke-width="1.0"/>
<line x1="71.9" y1="637.53" x2="77.1" y2="637.53" stroke="#231f20" stroke-width="1.1"/>
<rect x="88.5" y="637.53" width="12.7" height="17.67" fill="#3aa935"/>
<line x1="94.5" y1="637.53" x2="94.5" y2="633.7" stroke="#231f20" stroke-width="1.0"/>
<line x1="91.9" y1="633.7" x2="97.1" y2="633.7" stroke="#231f20" stroke-width="1.1"/>
<circle cx="55.6" cy="609.55" r="1.3" fill="none" stroke="#1a2230" stroke-width="0.8"/>
<circle cx="50.5" cy="643.42" r="1.3" fill="none" stroke="#1a2230" stroke-width="0.8"/>
<circle cx="55.6" cy="650.78" r="1.3" fill="none" stroke="#1a2230" stroke-width="0.8"/>
<circle cx="60.5" cy="650.78" r="1.3" fill="none" stroke="#1a2230" stroke-width="0.8"/>
<circle cx="50.5" cy="650.78" r="1.3" fill="none" stroke="#1a2230" stroke-width="0.8"/>
<circle cx="60.5" cy="643.42" r="1.3" fill="none" stroke="#1a2230" stroke-width="0.8"/>
<circle cx="50.5" cy="647.25" r="1.3" fill="none" stroke="#1a2230" stroke-width="0.8"/>
<circle cx="60.5" cy="647.25" r="1.3" fill="none" stroke="#1a2230" stroke-width="0.8"/>
<polygon points="69.45,638.77 72.55,638.77 71,635.98" fill="none" stroke="#1a2230" stroke-width="0.75"/>
<polygon points="72.45,640.24 75.55,640.24 74,637.45" fill="none" stroke="#1a2230" stroke-width="0.75"/>
<polygon points="75.45,641.13 78.55,641.13 77,638.34" fill="none" stroke="#1a2230" stroke-width="0.75"/>
<polygon points="71.45,644.66 74.55,644.66 73,641.87" fill="none" stroke="#1a2230" stroke-width="0.75"/>
<polygon points="73.45,649.08 76.55,649.08 75,646.29" fill="none" stroke="#1a2230" stroke-width="0.75"/>
<polygon points="94.5,630.39 95.75,631.64 94.5,632.89 93.25,631.64" fill="#231f20"/>
<polygon points="90,636.28 91.25,637.53 90,638.78 88.75,637.53" fill="#231f20"/>
<polygon points="93,636.87 94.25,638.12 93,639.37 91.75,638.12" fill="#231f20"/>
<polygon points="96,636.28 97.25,637.53 96,638.78 94.75,637.53" fill="#231f20"/>
<polygon points="99,637.75 100.25,639 99,640.25 97.75,639" fill="#231f20"/>
<line x1="75.5" y1="624.5" x2="94.5" y2="624.5" stroke="#3a3a3a" stroke-width="0.9"/>
<line x1="75.5" y1="623.2" x2="75.5" y2="625.8" stroke="#3a3a3a" stroke-width="0.9"/>
<line x1="94.5" y1="623.2" x2="94.5" y2="625.8" stroke="#3a3a3a" stroke-width="0.9"/>
<text x="85" y="623.35" font-size="7" text-anchor="middle" fill="#222" textLength="2.45" lengthAdjust="spacingAndGlyphs">*</text>
<text x="13.88" y="624.2" font-size="9" text-anchor="middle" fill="#231f20" textLength="42" lengthAdjust="spacingAndGlyphs" transform="rotate(-90 13.88 624.2)">% Donor T cell</text>
<text x="23.78" y="623.85" font-size="9" text-anchor="middle" fill="#231f20" textLength="64.5" lengthAdjust="spacingAndGlyphs" transform="rotate(-90 23.78 623.85)">chimerism (CD45.1<tspan font-size="4.6" dy="-2.6">+</tspan><tspan dy="2.6">)</tspan></text>
<text x="144.5" y="598.1" font-size="6.4" text-anchor="end" fill="#231f20">50</text>
<text x="144.5" y="610.02" font-size="6.4" text-anchor="end" fill="#231f20">40</text>
<text x="144.5" y="621.94" font-size="6.4" text-anchor="end" fill="#231f20">30</text>
<text x="144.5" y="633.86" font-size="6.4" text-anchor="end" fill="#231f20">20</text>
<text x="144.5" y="645.78" font-size="6.4" text-anchor="end" fill="#231f20">10</text>
<text x="144.5" y="657.7" font-size="6.4" text-anchor="end" fill="#231f20">0</text>
<rect x="157.5" y="633.94" width="13.25" height="21.46" fill="#27a2dc"/>
<line x1="164.5" y1="633.94" x2="164.5" y2="623.22" stroke="#231f20" stroke-width="1.0"/>
<line x1="161.9" y1="623.22" x2="167.1" y2="623.22" stroke="#231f20" stroke-width="1.1"/>
<rect x="178" y="624.41" width="12.5" height="30.99" fill="#cb0a2b"/>
<line x1="184.5" y1="624.41" x2="184.5" y2="612.49" stroke="#231f20" stroke-width="1.0"/>
<line x1="181.9" y1="612.49" x2="187.1" y2="612.49" stroke="#231f20" stroke-width="1.1"/>
<rect x="198" y="611.3" width="12.5" height="44.1" fill="#3aa935"/>
<line x1="204.5" y1="611.3" x2="204.5" y2="601.76" stroke="#231f20" stroke-width="1.0"/>
<line x1="201.9" y1="601.76" x2="207.1" y2="601.76" stroke="#231f20" stroke-width="1.1"/>
<circle cx="161" cy="619.64" r="1.3" fill="none" stroke="#1a2230" stroke-width="0.8"/>
<circle cx="167" cy="618.45" r="1.3" fill="none" stroke="#1a2230" stroke-width="0.8"/>
<circle cx="161" cy="631.56" r="1.3" fill="none" stroke="#1a2230" stroke-width="0.8"/>
<circle cx="165" cy="635.14" r="1.3" fill="none" stroke="#1a2230" stroke-width="0.8"/>
<circle cx="163" cy="639.9" r="1.3" fill="none" stroke="#1a2230" stroke-width="0.8"/>
<circle cx="163" cy="645.86" r="1.3" fill="none" stroke="#1a2230" stroke-width="0.8"/>
<polygon points="182.45,606.58 185.55,606.58 184,603.79" fill="none" stroke="#1a2230" stroke-width="0.75"/>
<polygon points="178.45,624.46 181.55,624.46 180,621.67" fill="none" stroke="#1a2230" stroke-width="0.75"/>
<polygon points="182.45,623.26 185.55,623.26 184,620.47" fill="none" stroke="#1a2230" stroke-width="0.75"/>
<polygon points="186.45,623.26 189.55,623.26 188,620.47" fill="none" stroke="#1a2230" stroke-width="0.75"/>
<polygon points="182.45,633.99 185.55,633.99 184,631.2" fill="none" stroke="#1a2230" stroke-width="0.75"/>
<polygon points="182.45,644.72 185.55,644.72 184,641.93" fill="none" stroke="#1a2230" stroke-width="0.75"/>
<polygon points="204,598.13 205.25,599.38 204,600.63 202.75,599.38" fill="#231f20"/>
<polygon points="201,608.85 202.25,610.1 201,611.35 199.75,610.1" fill="#231f20"/>
<polygon points="207,608.85 208.25,610.1 207,611.35 205.75,610.1" fill="#231f20"/>
<polygon points="204,617.2 205.25,618.45 204,619.7 202.75,618.45" fill="#231f20"/>
<polygon points="204,623.16 205.25,624.41 204,625.66 202.75,624.41" fill="#231f20"/>
<line x1="163.75" y1="585" x2="205" y2="585" stroke="#3a3a3a" stroke-width="0.9"/>
<line x1="163.75" y1="583.7" x2="163.75" y2="586.3" stroke="#3a3a3a" stroke-width="0.9"/>
<line x1="205" y1="583.7" x2="205" y2="586.3" stroke="#3a3a3a" stroke-width="0.9"/>
<text x="184.38" y="585.7" font-size="7" text-anchor="middle" fill="#222" textLength="7.35" lengthAdjust="spacingAndGlyphs">***</text>
<line x1="185.5" y1="591.75" x2="205" y2="591.75" stroke="#3a3a3a" stroke-width="0.9"/>
<line x1="185.5" y1="590.45" x2="185.5" y2="593.05" stroke="#3a3a3a" stroke-width="0.9"/>
<line x1="205" y1="590.45" x2="205" y2="593.05" stroke="#3a3a3a" stroke-width="0.9"/>
<text x="195.25" y="592.45" font-size="7" text-anchor="middle" fill="#222" textLength="2.45" lengthAdjust="spacingAndGlyphs">*</text>
<text x="121.88" y="624.25" font-size="9" text-anchor="middle" fill="#231f20" textLength="43.3" lengthAdjust="spacingAndGlyphs" transform="rotate(-90 121.88 624.25)">% Donor B cell</text>
<text x="131.58" y="623.9" font-size="9" text-anchor="middle" fill="#231f20" textLength="64.6" lengthAdjust="spacingAndGlyphs" transform="rotate(-90 131.58 623.9)">chimerism (CD45.1<tspan font-size="4.6" dy="-2.6">+</tspan><tspan dy="2.6">)</tspan></text>
<text x="255.5" y="598.6" font-size="6.4" text-anchor="end" fill="#231f20">100</text>
<text x="255.5" y="610.42" font-size="6.4" text-anchor="end" fill="#231f20">80</text>
<text x="255.5" y="622.24" font-size="6.4" text-anchor="end" fill="#231f20">60</text>
<text x="255.5" y="634.06" font-size="6.4" text-anchor="end" fill="#231f20">40</text>
<text x="255.5" y="645.88" font-size="6.4" text-anchor="end" fill="#231f20">20</text>
<text x="255.5" y="657.7" font-size="6.4" text-anchor="end" fill="#231f20">0</text>
<rect x="268.75" y="612.85" width="13.25" height="42.55" fill="#27a2dc"/>
<line x1="275.5" y1="612.85" x2="275.5" y2="606.35" stroke="#231f20" stroke-width="1.0"/>
<line x1="272.9" y1="606.35" x2="278.1" y2="606.35" stroke="#231f20" stroke-width="1.1"/>
<rect x="289.5" y="616.39" width="12.5" height="39.01" fill="#cb0a2b"/>
<line x1="295.5" y1="616.39" x2="295.5" y2="609.3" stroke="#231f20" stroke-width="1.0"/>
<line x1="292.9" y1="609.3" x2="298.1" y2="609.3" stroke="#231f20" stroke-width="1.1"/>
<rect x="308.75" y="624.67" width="13.25" height="30.73" fill="#3aa935"/>
<line x1="315.5" y1="624.67" x2="315.5" y2="619.94" stroke="#231f20" stroke-width="1.0"/>
<line x1="312.9" y1="619.94" x2="318.1" y2="619.94" stroke="#231f20" stroke-width="1.1"/>
<circle cx="275" cy="603.39" r="1.3" fill="none" stroke="#1a2230" stroke-width="0.8"/>
<circle cx="271" cy="609.89" r="1.3" fill="none" stroke="#1a2230" stroke-width="0.8"/>
<circle cx="279" cy="609.89" r="1.3" fill="none" stroke="#1a2230" stroke-width="0.8"/>
<circle cx="271" cy="618.76" r="1.3" fill="none" stroke="#1a2230" stroke-width="0.8"/>
<circle cx="275" cy="618.76" r="1.3" fill="none" stroke="#1a2230" stroke-width="0.8"/>
<circle cx="279" cy="618.76" r="1.3" fill="none" stroke="#1a2230" stroke-width="0.8"/>
<polygon points="294.45,604.63 297.55,604.63 296,601.84" fill="none" stroke="#1a2230" stroke-width="0.75"/>
<polygon points="290.45,616.45 293.55,616.45 292,613.66" fill="none" stroke="#1a2230" stroke-width="0.75"/>
<polygon points="294.45,617.63 297.55,617.63 296,614.84" fill="none" stroke="#1a2230" stroke-width="0.75"/>
<polygon points="298.45,617.63 301.55,617.63 300,614.84" fill="none" stroke="#1a2230" stroke-width="0.75"/>
<polygon points="294.45,621.18 297.55,621.18 296,618.39" fill="none" stroke="#1a2230" stroke-width="0.75"/>
<polygon points="311,619.87 312.25,621.12 311,622.37 309.75,621.12" fill="#231f20"/>
<polygon points="314,619.87 315.25,621.12 314,622.37 312.75,621.12" fill="#231f20"/>
<polygon points="317,619.87 318.25,621.12 317,622.37 315.75,621.12" fill="#231f20"/>
<polygon points="320,619.87 321.25,621.12 320,622.37 318.75,621.12" fill="#231f20"/>
<polygon points="314,623.42 315.25,624.67 314,625.92 312.75,624.67" fill="#231f20"/>
<polygon points="317,624.6 318.25,625.85 317,627.1 315.75,625.85" fill="#231f20"/>
<line x1="275.5" y1="585" x2="315.75" y2="585" stroke="#3a3a3a" stroke-width="0.9"/>
<line x1="275.5" y1="583.7" x2="275.5" y2="586.3" stroke="#3a3a3a" stroke-width="0.9"/>
<line x1="315.75" y1="583.7" x2="315.75" y2="586.3" stroke="#3a3a3a" stroke-width="0.9"/>
<text x="295.62" y="585.7" font-size="7" text-anchor="middle" fill="#222" textLength="7.35" lengthAdjust="spacingAndGlyphs">***</text>
<line x1="295.5" y1="591.75" x2="315.75" y2="591.75" stroke="#3a3a3a" stroke-width="0.9"/>
<line x1="295.5" y1="590.45" x2="295.5" y2="593.05" stroke="#3a3a3a" stroke-width="0.9"/>
<line x1="315.75" y1="590.45" x2="315.75" y2="593.05" stroke="#3a3a3a" stroke-width="0.9"/>
<text x="305.62" y="592.45" font-size="7" text-anchor="middle" fill="#222" textLength="4.9" lengthAdjust="spacingAndGlyphs">**</text>
<text x="229.98" y="624.25" font-size="9" text-anchor="middle" fill="#231f20" textLength="63.9" lengthAdjust="spacingAndGlyphs" transform="rotate(-90 229.98 624.25)">% Donor myeloid cell</text>
<text x="240.28" y="623.9" font-size="9" text-anchor="middle" fill="#231f20" textLength="64.6" lengthAdjust="spacingAndGlyphs" transform="rotate(-90 240.28 623.9)">chimerism (CD45.1<tspan font-size="4.6" dy="-2.6">+</tspan><tspan dy="2.6">)</tspan></text>
<circle cx="331" cy="618" r="1.15" fill="none" stroke="#231f20" stroke-width="0.75"/>
<text x="335.7" y="620.23" font-size="6.2" text-anchor="start" fill="#231f20" textLength="65.4" lengthAdjust="spacingAndGlyphs">B6 CD45.1&gt;B6 CD45.2</text>
<polygon points="329.6,627.52 332.4,627.52 331,625" fill="#231f20" stroke="#231f20" stroke-width="0"/>
<text x="335.7" y="628.63" font-size="6.2" text-anchor="start" fill="#231f20" textLength="163.2" lengthAdjust="spacingAndGlyphs">B6 CD45.1&gt;FancA<tspan font-size="4.2" dy="-2.4">&#8722;/&#8722;</tspan><tspan dy="2.4"> </tspan>(CD45-ADC; 1.5 mg/kg)&gt;B6 CD45.2</text>
<polygon points="331,633.4 332.4,634.8 331,636.2 329.6,634.8" fill="#231f20"/>
<text x="335.7" y="637.03" font-size="6.2" text-anchor="start" fill="#231f20" textLength="155.4" lengthAdjust="spacingAndGlyphs">B6 CD45.1&gt;FancA<tspan font-size="4.2" dy="-2.4">&#8722;/&#8722;</tspan><tspan dy="2.4"> </tspan>(CD45-ADC; 3mg/kg)&gt;B6 CD45.2</text>
<line x1="47.5" y1="27.05" x2="47.5" y2="100.25" stroke="#231f20" stroke-width="1.15"/>
<line x1="44.5" y1="29.75" x2="47.3" y2="29.75" stroke="#231f20" stroke-width="0.9"/>
<line x1="44.5" y1="47.25" x2="47.3" y2="47.25" stroke="#231f20" stroke-width="0.9"/>
<line x1="44.5" y1="64.75" x2="47.3" y2="64.75" stroke="#231f20" stroke-width="0.9"/>
<line x1="44.5" y1="82.25" x2="47.3" y2="82.25" stroke="#231f20" stroke-width="0.9"/>
<line x1="44.5" y1="99.75" x2="47.3" y2="99.75" stroke="#231f20" stroke-width="0.9"/>
<line x1="46.8" y1="99.5" x2="122" y2="99.5" stroke="#231f20" stroke-width="1.15"/>
<line x1="47.3" y1="91.5" x2="122" y2="91.5" stroke="#231f20" stroke-width="1.15"/>
<line x1="85" y1="99.75" x2="85" y2="101.75" stroke="#231f20" stroke-width="0.9"/>
<line x1="184.5" y1="25.9" x2="184.5" y2="100.5" stroke="#231f20" stroke-width="1.15"/>
<line x1="181.7" y1="28.6" x2="184.5" y2="28.6" stroke="#231f20" stroke-width="0.9"/>
<line x1="181.7" y1="46.45" x2="184.5" y2="46.45" stroke="#231f20" stroke-width="0.9"/>
<line x1="181.7" y1="64.3" x2="184.5" y2="64.3" stroke="#231f20" stroke-width="0.9"/>
<line x1="181.7" y1="82.15" x2="184.5" y2="82.15" stroke="#231f20" stroke-width="0.9"/>
<line x1="181.7" y1="100" x2="184.5" y2="100" stroke="#231f20" stroke-width="0.9"/>
<line x1="184" y1="100.5" x2="258" y2="100.5" stroke="#231f20" stroke-width="1.15"/>
<line x1="184.5" y1="91.5" x2="258" y2="91.5" stroke="#231f20" stroke-width="1.15"/>
<line x1="223" y1="100" x2="223" y2="102" stroke="#231f20" stroke-width="0.9"/>
<line x1="323.5" y1="25.9" x2="323.5" y2="100.9" stroke="#231f20" stroke-width="1.15"/>
<line x1="320.7" y1="28.6" x2="323.5" y2="28.6" stroke="#231f20" stroke-width="0.9"/>
<line x1="320.7" y1="46.55" x2="323.5" y2="46.55" stroke="#231f20" stroke-width="0.9"/>
<line x1="320.7" y1="64.5" x2="323.5" y2="64.5" stroke="#231f20" stroke-width="0.9"/>
<line x1="320.7" y1="82.45" x2="323.5" y2="82.45" stroke="#231f20" stroke-width="0.9"/>
<line x1="320.7" y1="100.4" x2="323.5" y2="100.4" stroke="#231f20" stroke-width="0.9"/>
<line x1="323" y1="100.5" x2="393" y2="100.5" stroke="#231f20" stroke-width="1.15"/>
<line x1="323.5" y1="91.5" x2="393" y2="91.5" stroke="#231f20" stroke-width="1.15"/>
<line x1="361.25" y1="100.4" x2="361.25" y2="102.4" stroke="#231f20" stroke-width="0.9"/>
<line x1="35.5" y1="138.5" x2="35.5" y2="199.9" stroke="#231f20" stroke-width="1.15"/>
<line x1="32.6" y1="141.2" x2="35.4" y2="141.2" stroke="#231f20" stroke-width="0.9"/>
<line x1="32.6" y1="155.75" x2="35.4" y2="155.75" stroke="#231f20" stroke-width="0.9"/>
<line x1="32.6" y1="170.3" x2="35.4" y2="170.3" stroke="#231f20" stroke-width="0.9"/>
<line x1="32.6" y1="184.85" x2="35.4" y2="184.85" stroke="#231f20" stroke-width="0.9"/>
<line x1="32.6" y1="199.4" x2="35.4" y2="199.4" stroke="#231f20" stroke-width="0.9"/>
<line x1="34.9" y1="199.5" x2="99.5" y2="199.5" stroke="#231f20" stroke-width="1.15"/>
<line x1="70" y1="199.4" x2="70" y2="201.4" stroke="#231f20" stroke-width="0.9"/>
<line x1="138.5" y1="137.1" x2="138.5" y2="201.3" stroke="#231f20" stroke-width="1.15"/>
<line x1="135.9" y1="139.8" x2="138.7" y2="139.8" stroke="#231f20" stroke-width="0.9"/>
<line x1="135.9" y1="152" x2="138.7" y2="152" stroke="#231f20" stroke-width="0.9"/>
<line x1="135.9" y1="164.2" x2="138.7" y2="164.2" stroke="#231f20" stroke-width="0.9"/>
<line x1="135.9" y1="176.4" x2="138.7" y2="176.4" stroke="#231f20" stroke-width="0.9"/>
<line x1="135.9" y1="188.6" x2="138.7" y2="188.6" stroke="#231f20" stroke-width="0.9"/>
<line x1="135.9" y1="200.8" x2="138.7" y2="200.8" stroke="#231f20" stroke-width="0.9"/>
<line x1="138.2" y1="200.5" x2="213" y2="200.5" stroke="#231f20" stroke-width="1.15"/>
<line x1="150.8" y1="200.8" x2="150.8" y2="203.2" stroke="#231f20" stroke-width="0.9"/>
<line x1="176.4" y1="200.8" x2="176.4" y2="203.2" stroke="#231f20" stroke-width="0.9"/>
<line x1="201.3" y1="200.8" x2="201.3" y2="203.2" stroke="#231f20" stroke-width="0.9"/>
<line x1="247.5" y1="136.1" x2="247.5" y2="200.6" stroke="#231f20" stroke-width="1.15"/>
<line x1="244.2" y1="138.8" x2="247" y2="138.8" stroke="#231f20" stroke-width="0.9"/>
<line x1="244.2" y1="151.06" x2="247" y2="151.06" stroke="#231f20" stroke-width="0.9"/>
<line x1="244.2" y1="163.32" x2="247" y2="163.32" stroke="#231f20" stroke-width="0.9"/>
<line x1="244.2" y1="175.58" x2="247" y2="175.58" stroke="#231f20" stroke-width="0.9"/>
<line x1="244.2" y1="187.84" x2="247" y2="187.84" stroke="#231f20" stroke-width="0.9"/>
<line x1="244.2" y1="200.1" x2="247" y2="200.1" stroke="#231f20" stroke-width="0.9"/>
<line x1="246.5" y1="200.5" x2="320" y2="200.5" stroke="#231f20" stroke-width="1.15"/>
<line x1="282.5" y1="200.1" x2="282.5" y2="202.1" stroke="#231f20" stroke-width="0.9"/>
<line x1="354.5" y1="135.3" x2="354.5" y2="167.1" stroke="#231f20" stroke-width="1.1"/>
<line x1="354.5" y1="170.8" x2="354.5" y2="200.4" stroke="#231f20" stroke-width="1.1"/>
<line x1="351.6" y1="137.88" x2="354.1" y2="137.88" stroke="#231f20" stroke-width="0.9"/>
<line x1="351.6" y1="144.81" x2="354.1" y2="144.81" stroke="#231f20" stroke-width="0.9"/>
<line x1="351.6" y1="151.74" x2="354.1" y2="151.74" stroke="#231f20" stroke-width="0.9"/>
<line x1="351.6" y1="158.67" x2="354.1" y2="158.67" stroke="#231f20" stroke-width="0.9"/>
<line x1="351.6" y1="165.6" x2="354.1" y2="165.6" stroke="#231f20" stroke-width="0.9"/>
<line x1="354.1" y1="167" x2="357.6" y2="167" stroke="#231f20" stroke-width="1.2"/>
<line x1="351.6" y1="177.2" x2="354.1" y2="177.2" stroke="#231f20" stroke-width="0.9"/>
<line x1="351.6" y1="182.9" x2="354.1" y2="182.9" stroke="#231f20" stroke-width="0.9"/>
<line x1="351.6" y1="188.6" x2="354.1" y2="188.6" stroke="#231f20" stroke-width="0.9"/>
<line x1="351.6" y1="194.3" x2="354.1" y2="194.3" stroke="#231f20" stroke-width="0.9"/>
<line x1="351.6" y1="200" x2="354.1" y2="200" stroke="#231f20" stroke-width="0.9"/>
<line x1="351.6" y1="171.5" x2="354.1" y2="171.5" stroke="#231f20" stroke-width="0.9"/>
<line x1="353.6" y1="200.5" x2="430" y2="200.5" stroke="#231f20" stroke-width="1.15"/>
<line x1="45.5" y1="264.2" x2="45.5" y2="331.9" stroke="#231f20" stroke-width="1.15"/>
<line x1="42.4" y1="266.9" x2="45.2" y2="266.9" stroke="#231f20" stroke-width="0.9"/>
<line x1="42.4" y1="276.11" x2="45.2" y2="276.11" stroke="#231f20" stroke-width="0.9"/>
<line x1="42.4" y1="285.33" x2="45.2" y2="285.33" stroke="#231f20" stroke-width="0.9"/>
<line x1="42.4" y1="294.54" x2="45.2" y2="294.54" stroke="#231f20" stroke-width="0.9"/>
<line x1="42.4" y1="303.76" x2="45.2" y2="303.76" stroke="#231f20" stroke-width="0.9"/>
<line x1="42.4" y1="312.97" x2="45.2" y2="312.97" stroke="#231f20" stroke-width="0.9"/>
<line x1="42.4" y1="322.19" x2="45.2" y2="322.19" stroke="#231f20" stroke-width="0.9"/>
<line x1="42.4" y1="331.4" x2="45.2" y2="331.4" stroke="#231f20" stroke-width="0.9"/>
<line x1="44.7" y1="331.5" x2="92" y2="331.5" stroke="#231f20" stroke-width="1.15"/>
<line x1="45.2" y1="326.5" x2="92" y2="326.5" stroke="#231f20" stroke-width="1.15"/>
<line x1="69" y1="331.4" x2="69" y2="333.4" stroke="#231f20" stroke-width="0.9"/>
<line x1="117.5" y1="265.1" x2="117.5" y2="332.7" stroke="#231f20" stroke-width="1.15"/>
<line x1="114.3" y1="267.8" x2="117.1" y2="267.8" stroke="#231f20" stroke-width="0.9"/>
<line x1="114.3" y1="277" x2="117.1" y2="277" stroke="#231f20" stroke-width="0.9"/>
<line x1="114.3" y1="286.2" x2="117.1" y2="286.2" stroke="#231f20" stroke-width="0.9"/>
<line x1="114.3" y1="295.4" x2="117.1" y2="295.4" stroke="#231f20" stroke-width="0.9"/>
<line x1="114.3" y1="304.6" x2="117.1" y2="304.6" stroke="#231f20" stroke-width="0.9"/>
<line x1="114.3" y1="313.8" x2="117.1" y2="313.8" stroke="#231f20" stroke-width="0.9"/>
<line x1="114.3" y1="323" x2="117.1" y2="323" stroke="#231f20" stroke-width="0.9"/>
<line x1="114.3" y1="332.2" x2="117.1" y2="332.2" stroke="#231f20" stroke-width="0.9"/>
<line x1="116.6" y1="332.5" x2="163.75" y2="332.5" stroke="#231f20" stroke-width="1.15"/>
<line x1="117.1" y1="327.5" x2="163.75" y2="327.5" stroke="#231f20" stroke-width="1.15"/>
<line x1="141" y1="332.2" x2="141" y2="334.2" stroke="#231f20" stroke-width="0.9"/>
<line x1="188.5" y1="266.3" x2="188.5" y2="332.5" stroke="#231f20" stroke-width="1.15"/>
<line x1="185.6" y1="269" x2="188.4" y2="269" stroke="#231f20" stroke-width="0.9"/>
<line x1="185.6" y1="278" x2="188.4" y2="278" stroke="#231f20" stroke-width="0.9"/>
<line x1="185.6" y1="287" x2="188.4" y2="287" stroke="#231f20" stroke-width="0.9"/>
<line x1="185.6" y1="296" x2="188.4" y2="296" stroke="#231f20" stroke-width="0.9"/>
<line x1="185.6" y1="305" x2="188.4" y2="305" stroke="#231f20" stroke-width="0.9"/>
<line x1="185.6" y1="314" x2="188.4" y2="314" stroke="#231f20" stroke-width="0.9"/>
<line x1="185.6" y1="323" x2="188.4" y2="323" stroke="#231f20" stroke-width="0.9"/>
<line x1="185.6" y1="332" x2="188.4" y2="332" stroke="#231f20" stroke-width="0.9"/>
<line x1="187.9" y1="332.5" x2="235.5" y2="332.5" stroke="#231f20" stroke-width="1.15"/>
<line x1="188.4" y1="327.5" x2="235.5" y2="327.5" stroke="#231f20" stroke-width="1.15"/>
<line x1="212" y1="332" x2="212" y2="334" stroke="#231f20" stroke-width="0.9"/>
<line x1="279.5" y1="264.6" x2="279.5" y2="332" stroke="#231f20" stroke-width="1.15"/>
<line x1="276.8" y1="267.3" x2="279.6" y2="267.3" stroke="#231f20" stroke-width="0.9"/>
<line x1="276.8" y1="283.35" x2="279.6" y2="283.35" stroke="#231f20" stroke-width="0.9"/>
<line x1="276.8" y1="299.4" x2="279.6" y2="299.4" stroke="#231f20" stroke-width="0.9"/>
<line x1="276.8" y1="315.45" x2="279.6" y2="315.45" stroke="#231f20" stroke-width="0.9"/>
<line x1="276.8" y1="331.5" x2="279.6" y2="331.5" stroke="#231f20" stroke-width="0.9"/>
<line x1="279.1" y1="331.5" x2="327.5" y2="331.5" stroke="#231f20" stroke-width="1.15"/>
<line x1="279.6" y1="326.5" x2="327.5" y2="326.5" stroke="#231f20" stroke-width="1.15"/>
<line x1="304" y1="331.5" x2="304" y2="333.5" stroke="#231f20" stroke-width="0.9"/>
<line x1="370.5" y1="264.6" x2="370.5" y2="332" stroke="#231f20" stroke-width="1.15"/>
<line x1="367.2" y1="267.3" x2="370" y2="267.3" stroke="#231f20" stroke-width="0.9"/>
<line x1="367.2" y1="276.47" x2="370" y2="276.47" stroke="#231f20" stroke-width="0.9"/>
<line x1="367.2" y1="285.64" x2="370" y2="285.64" stroke="#231f20" stroke-width="0.9"/>
<line x1="367.2" y1="294.81" x2="370" y2="294.81" stroke="#231f20" stroke-width="0.9"/>
<line x1="367.2" y1="303.99" x2="370" y2="303.99" stroke="#231f20" stroke-width="0.9"/>
<line x1="367.2" y1="313.16" x2="370" y2="313.16" stroke="#231f20" stroke-width="0.9"/>
<line x1="367.2" y1="322.33" x2="370" y2="322.33" stroke="#231f20" stroke-width="0.9"/>
<line x1="367.2" y1="331.5" x2="370" y2="331.5" stroke="#231f20" stroke-width="0.9"/>
<line x1="369.5" y1="331.5" x2="418" y2="331.5" stroke="#231f20" stroke-width="1.15"/>
<line x1="370" y1="328.5" x2="418" y2="328.5" stroke="#231f20" stroke-width="1.15"/>
<line x1="394" y1="331.5" x2="394" y2="333.5" stroke="#231f20" stroke-width="0.9"/>
<line x1="464.5" y1="264.2" x2="464.5" y2="332" stroke="#231f20" stroke-width="1.15"/>
<line x1="461.8" y1="266.9" x2="464.6" y2="266.9" stroke="#231f20" stroke-width="0.9"/>
<line x1="461.8" y1="277.67" x2="464.6" y2="277.67" stroke="#231f20" stroke-width="0.9"/>
<line x1="461.8" y1="288.43" x2="464.6" y2="288.43" stroke="#231f20" stroke-width="0.9"/>
<line x1="461.8" y1="299.2" x2="464.6" y2="299.2" stroke="#231f20" stroke-width="0.9"/>
<line x1="461.8" y1="309.97" x2="464.6" y2="309.97" stroke="#231f20" stroke-width="0.9"/>
<line x1="461.8" y1="320.73" x2="464.6" y2="320.73" stroke="#231f20" stroke-width="0.9"/>
<line x1="461.8" y1="331.5" x2="464.6" y2="331.5" stroke="#231f20" stroke-width="0.9"/>
<line x1="464.1" y1="331.5" x2="512" y2="331.5" stroke="#231f20" stroke-width="1.15"/>
<line x1="464.6" y1="328.5" x2="512" y2="328.5" stroke="#231f20" stroke-width="1.15"/>
<line x1="488" y1="331.5" x2="488" y2="333.5" stroke="#231f20" stroke-width="0.9"/>
<line x1="45.5" y1="390" x2="45.5" y2="456.7" stroke="#231f20" stroke-width="1.15"/>
<line x1="42.7" y1="392.7" x2="45.5" y2="392.7" stroke="#231f20" stroke-width="0.9"/>
<line x1="42.7" y1="403.28" x2="45.5" y2="403.28" stroke="#231f20" stroke-width="0.9"/>
<line x1="42.7" y1="413.87" x2="45.5" y2="413.87" stroke="#231f20" stroke-width="0.9"/>
<line x1="42.7" y1="424.45" x2="45.5" y2="424.45" stroke="#231f20" stroke-width="0.9"/>
<line x1="42.7" y1="435.03" x2="45.5" y2="435.03" stroke="#231f20" stroke-width="0.9"/>
<line x1="42.7" y1="445.62" x2="45.5" y2="445.62" stroke="#231f20" stroke-width="0.9"/>
<line x1="42.7" y1="456.2" x2="45.5" y2="456.2" stroke="#231f20" stroke-width="0.9"/>
<line x1="45" y1="456.5" x2="92" y2="456.5" stroke="#231f20" stroke-width="1.15"/>
<line x1="45.5" y1="453.5" x2="92" y2="453.5" stroke="#231f20" stroke-width="1.15"/>
<line x1="69" y1="456.2" x2="69" y2="458.2" stroke="#231f20" stroke-width="0.9"/>
<line x1="117.5" y1="388.5" x2="117.5" y2="455.9" stroke="#231f20" stroke-width="1.15"/>
<line x1="114.7" y1="391.2" x2="117.5" y2="391.2" stroke="#231f20" stroke-width="0.9"/>
<line x1="114.7" y1="401.9" x2="117.5" y2="401.9" stroke="#231f20" stroke-width="0.9"/>
<line x1="114.7" y1="412.6" x2="117.5" y2="412.6" stroke="#231f20" stroke-width="0.9"/>
<line x1="114.7" y1="423.3" x2="117.5" y2="423.3" stroke="#231f20" stroke-width="0.9"/>
<line x1="114.7" y1="434" x2="117.5" y2="434" stroke="#231f20" stroke-width="0.9"/>
<line x1="114.7" y1="444.7" x2="117.5" y2="444.7" stroke="#231f20" stroke-width="0.9"/>
<line x1="114.7" y1="455.4" x2="117.5" y2="455.4" stroke="#231f20" stroke-width="0.9"/>
<line x1="117" y1="455.5" x2="163" y2="455.5" stroke="#231f20" stroke-width="1.15"/>
<line x1="117.5" y1="452.5" x2="163" y2="452.5" stroke="#231f20" stroke-width="1.15"/>
<line x1="140.5" y1="455.4" x2="140.5" y2="457.4" stroke="#231f20" stroke-width="0.9"/>
<line x1="188.5" y1="389.3" x2="188.5" y2="456.7" stroke="#231f20" stroke-width="1.15"/>
<line x1="185.2" y1="392" x2="188" y2="392" stroke="#231f20" stroke-width="0.9"/>
<line x1="185.2" y1="402.7" x2="188" y2="402.7" stroke="#231f20" stroke-width="0.9"/>
<line x1="185.2" y1="413.4" x2="188" y2="413.4" stroke="#231f20" stroke-width="0.9"/>
<line x1="185.2" y1="424.1" x2="188" y2="424.1" stroke="#231f20" stroke-width="0.9"/>
<line x1="185.2" y1="434.8" x2="188" y2="434.8" stroke="#231f20" stroke-width="0.9"/>
<line x1="185.2" y1="445.5" x2="188" y2="445.5" stroke="#231f20" stroke-width="0.9"/>
<line x1="185.2" y1="456.2" x2="188" y2="456.2" stroke="#231f20" stroke-width="0.9"/>
<line x1="187.5" y1="456.5" x2="236.3" y2="456.5" stroke="#231f20" stroke-width="1.15"/>
<line x1="188" y1="453.5" x2="236.3" y2="453.5" stroke="#231f20" stroke-width="1.15"/>
<line x1="211.6" y1="456.2" x2="211.6" y2="458.2" stroke="#231f20" stroke-width="0.9"/>
<line x1="279.5" y1="389.7" x2="279.5" y2="456" stroke="#231f20" stroke-width="1.15"/>
<line x1="276.8" y1="392.4" x2="279.6" y2="392.4" stroke="#231f20" stroke-width="0.9"/>
<line x1="276.8" y1="405.02" x2="279.6" y2="405.02" stroke="#231f20" stroke-width="0.9"/>
<line x1="276.8" y1="417.64" x2="279.6" y2="417.64" stroke="#231f20" stroke-width="0.9"/>
<line x1="276.8" y1="430.26" x2="279.6" y2="430.26" stroke="#231f20" stroke-width="0.9"/>
<line x1="276.8" y1="442.88" x2="279.6" y2="442.88" stroke="#231f20" stroke-width="0.9"/>
<line x1="276.8" y1="455.5" x2="279.6" y2="455.5" stroke="#231f20" stroke-width="0.9"/>
<line x1="279.1" y1="455.5" x2="323.1" y2="455.5" stroke="#231f20" stroke-width="1.15"/>
<line x1="301" y1="455.5" x2="301" y2="457.5" stroke="#231f20" stroke-width="0.9"/>
<line x1="370.5" y1="389.5" x2="370.5" y2="456.3" stroke="#231f20" stroke-width="1.15"/>
<line x1="367.3" y1="392.2" x2="370.1" y2="392.2" stroke="#231f20" stroke-width="0.9"/>
<line x1="367.3" y1="404.92" x2="370.1" y2="404.92" stroke="#231f20" stroke-width="0.9"/>
<line x1="367.3" y1="417.64" x2="370.1" y2="417.64" stroke="#231f20" stroke-width="0.9"/>
<line x1="367.3" y1="430.36" x2="370.1" y2="430.36" stroke="#231f20" stroke-width="0.9"/>
<line x1="367.3" y1="443.08" x2="370.1" y2="443.08" stroke="#231f20" stroke-width="0.9"/>
<line x1="367.3" y1="455.8" x2="370.1" y2="455.8" stroke="#231f20" stroke-width="0.9"/>
<line x1="369.6" y1="455.5" x2="413.75" y2="455.5" stroke="#231f20" stroke-width="1.15"/>
<line x1="370.1" y1="449.5" x2="413.75" y2="449.5" stroke="#231f20" stroke-width="1.15"/>
<line x1="391" y1="455.8" x2="391" y2="457.8" stroke="#231f20" stroke-width="0.9"/>
<line x1="464.5" y1="388.3" x2="464.5" y2="456.3" stroke="#231f20" stroke-width="1.15"/>
<line x1="461.8" y1="391" x2="464.6" y2="391" stroke="#231f20" stroke-width="0.9"/>
<line x1="461.8" y1="407.2" x2="464.6" y2="407.2" stroke="#231f20" stroke-width="0.9"/>
<line x1="461.8" y1="423.4" x2="464.6" y2="423.4" stroke="#231f20" stroke-width="0.9"/>
<line x1="461.8" y1="439.6" x2="464.6" y2="439.6" stroke="#231f20" stroke-width="0.9"/>
<line x1="461.8" y1="455.8" x2="464.6" y2="455.8" stroke="#231f20" stroke-width="0.9"/>
<line x1="464.1" y1="455.5" x2="512" y2="455.5" stroke="#231f20" stroke-width="1.15"/>
<line x1="464.6" y1="451.5" x2="512" y2="451.5" stroke="#231f20" stroke-width="1.15"/>
<line x1="487.5" y1="455.8" x2="487.5" y2="457.8" stroke="#231f20" stroke-width="0.9"/>
<line x1="45.5" y1="503.8" x2="45.5" y2="564.5" stroke="#231f20" stroke-width="1.15"/>
<line x1="42.7" y1="506.5" x2="45.5" y2="506.5" stroke="#231f20" stroke-width="0.9"/>
<line x1="42.7" y1="516.08" x2="45.5" y2="516.08" stroke="#231f20" stroke-width="0.9"/>
<line x1="42.7" y1="525.67" x2="45.5" y2="525.67" stroke="#231f20" stroke-width="0.9"/>
<line x1="42.7" y1="535.25" x2="45.5" y2="535.25" stroke="#231f20" stroke-width="0.9"/>
<line x1="42.7" y1="544.83" x2="45.5" y2="544.83" stroke="#231f20" stroke-width="0.9"/>
<line x1="42.7" y1="554.42" x2="45.5" y2="554.42" stroke="#231f20" stroke-width="0.9"/>
<line x1="42.7" y1="564" x2="45.5" y2="564" stroke="#231f20" stroke-width="0.9"/>
<line x1="45" y1="564.5" x2="106.25" y2="564.5" stroke="#231f20" stroke-width="1.15"/>
<line x1="76.25" y1="564" x2="76.25" y2="566" stroke="#231f20" stroke-width="0.9"/>
<line x1="150.5" y1="503.8" x2="150.5" y2="564.5" stroke="#231f20" stroke-width="1.15"/>
<line x1="147.2" y1="506.5" x2="150" y2="506.5" stroke="#231f20" stroke-width="0.9"/>
<line x1="147.2" y1="516.08" x2="150" y2="516.08" stroke="#231f20" stroke-width="0.9"/>
<line x1="147.2" y1="525.67" x2="150" y2="525.67" stroke="#231f20" stroke-width="0.9"/>
<line x1="147.2" y1="535.25" x2="150" y2="535.25" stroke="#231f20" stroke-width="0.9"/>
<line x1="147.2" y1="544.83" x2="150" y2="544.83" stroke="#231f20" stroke-width="0.9"/>
<line x1="147.2" y1="554.42" x2="150" y2="554.42" stroke="#231f20" stroke-width="0.9"/>
<line x1="147.2" y1="564" x2="150" y2="564" stroke="#231f20" stroke-width="0.9"/>
<line x1="149.5" y1="564.5" x2="217.5" y2="564.5" stroke="#231f20" stroke-width="1.15"/>
<line x1="184.25" y1="564" x2="184.25" y2="566" stroke="#231f20" stroke-width="0.9"/>
<line x1="261.5" y1="503.8" x2="261.5" y2="564.5" stroke="#231f20" stroke-width="1.15"/>
<line x1="258.45" y1="506.5" x2="261.25" y2="506.5" stroke="#231f20" stroke-width="0.9"/>
<line x1="258.45" y1="516.08" x2="261.25" y2="516.08" stroke="#231f20" stroke-width="0.9"/>
<line x1="258.45" y1="525.67" x2="261.25" y2="525.67" stroke="#231f20" stroke-width="0.9"/>
<line x1="258.45" y1="535.25" x2="261.25" y2="535.25" stroke="#231f20" stroke-width="0.9"/>
<line x1="258.45" y1="544.83" x2="261.25" y2="544.83" stroke="#231f20" stroke-width="0.9"/>
<line x1="258.45" y1="554.42" x2="261.25" y2="554.42" stroke="#231f20" stroke-width="0.9"/>
<line x1="258.45" y1="564" x2="261.25" y2="564" stroke="#231f20" stroke-width="0.9"/>
<line x1="260.75" y1="564.5" x2="327.5" y2="564.5" stroke="#231f20" stroke-width="1.15"/>
<line x1="295.75" y1="564" x2="295.75" y2="566" stroke="#231f20" stroke-width="0.9"/>
<line x1="42.5" y1="593.6" x2="42.5" y2="655.7" stroke="#231f20" stroke-width="1.15"/>
<line x1="39.6" y1="596.3" x2="42.4" y2="596.3" stroke="#231f20" stroke-width="0.9"/>
<line x1="39.6" y1="611.02" x2="42.4" y2="611.02" stroke="#231f20" stroke-width="0.9"/>
<line x1="39.6" y1="625.75" x2="42.4" y2="625.75" stroke="#231f20" stroke-width="0.9"/>
<line x1="39.6" y1="640.48" x2="42.4" y2="640.48" stroke="#231f20" stroke-width="0.9"/>
<line x1="39.6" y1="655.2" x2="42.4" y2="655.2" stroke="#231f20" stroke-width="0.9"/>
<line x1="41.9" y1="655.5" x2="107.5" y2="655.5" stroke="#231f20" stroke-width="1.15"/>
<line x1="75" y1="655.2" x2="75" y2="657.2" stroke="#231f20" stroke-width="0.9"/>
<line x1="150.5" y1="593.1" x2="150.5" y2="655.9" stroke="#231f20" stroke-width="1.15"/>
<line x1="147.8" y1="595.8" x2="150.6" y2="595.8" stroke="#231f20" stroke-width="0.9"/>
<line x1="147.8" y1="607.72" x2="150.6" y2="607.72" stroke="#231f20" stroke-width="0.9"/>
<line x1="147.8" y1="619.64" x2="150.6" y2="619.64" stroke="#231f20" stroke-width="0.9"/>
<line x1="147.8" y1="631.56" x2="150.6" y2="631.56" stroke="#231f20" stroke-width="0.9"/>
<line x1="147.8" y1="643.48" x2="150.6" y2="643.48" stroke="#231f20" stroke-width="0.9"/>
<line x1="147.8" y1="655.4" x2="150.6" y2="655.4" stroke="#231f20" stroke-width="0.9"/>
<line x1="150.1" y1="655.5" x2="217.5" y2="655.5" stroke="#231f20" stroke-width="1.15"/>
<line x1="184" y1="655.4" x2="184" y2="657.4" stroke="#231f20" stroke-width="0.9"/>
<line x1="261.5" y1="593.6" x2="261.5" y2="655.9" stroke="#231f20" stroke-width="1.15"/>
<line x1="258.8" y1="596.3" x2="261.6" y2="596.3" stroke="#231f20" stroke-width="0.9"/>
<line x1="258.8" y1="608.12" x2="261.6" y2="608.12" stroke="#231f20" stroke-width="0.9"/>
<line x1="258.8" y1="619.94" x2="261.6" y2="619.94" stroke="#231f20" stroke-width="0.9"/>
<line x1="258.8" y1="631.76" x2="261.6" y2="631.76" stroke="#231f20" stroke-width="0.9"/>
<line x1="258.8" y1="643.58" x2="261.6" y2="643.58" stroke="#231f20" stroke-width="0.9"/>
<line x1="258.8" y1="655.4" x2="261.6" y2="655.4" stroke="#231f20" stroke-width="0.9"/>
<line x1="261.1" y1="655.5" x2="328.3" y2="655.5" stroke="#231f20" stroke-width="1.15"/>
<line x1="295" y1="655.4" x2="295" y2="657.4" stroke="#231f20" stroke-width="0.9"/>
<rect x="0.5" y="0.5" width="519" height="665" fill="none" stroke="#585858" stroke-width="1.2"/>
</svg>
</body></html>
